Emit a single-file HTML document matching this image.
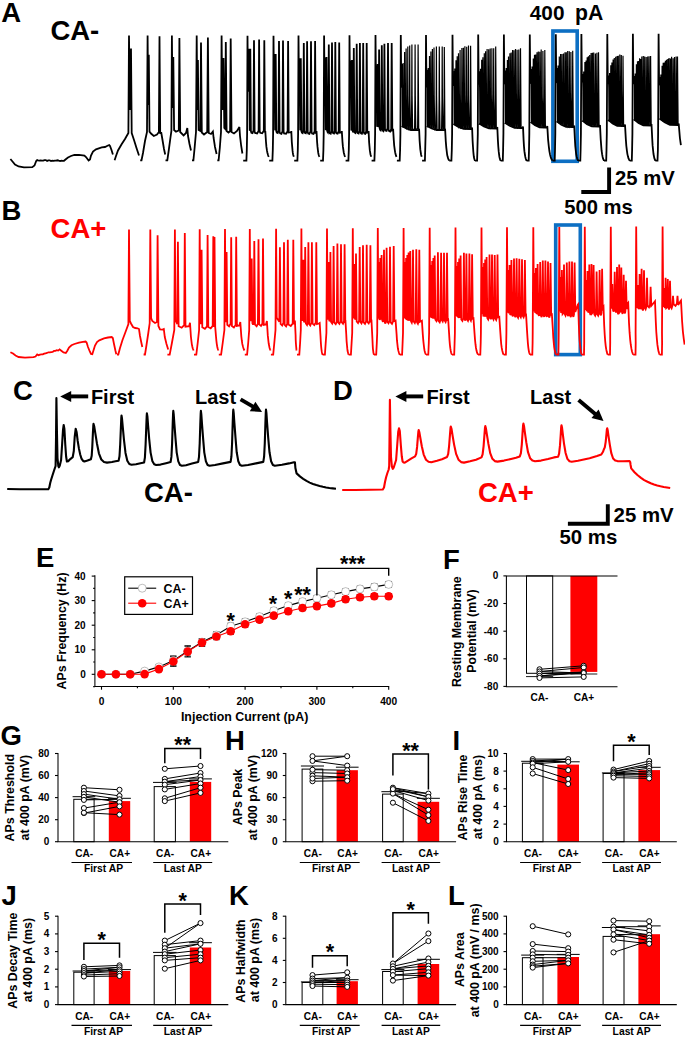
<!DOCTYPE html>
<html><head><meta charset="utf-8"><title>Figure</title>
<style>
html,body{margin:0;padding:0;background:#fff;}
svg{display:block;font-family:"Liberation Sans",sans-serif;font-weight:bold;}
</style></head>
<body>
<svg width="685" height="1038" viewBox="0 0 685 1038">
<rect x="0" y="0" width="685" height="1038" fill="#fff"/>
<rect x="552.9" y="31.0" width="24.3" height="130.3" fill="none" stroke="#0d6fc3" stroke-width="3.6"/>
<rect x="555.7" y="225.0" width="24.6" height="129.6" fill="none" stroke="#0d6fc3" stroke-width="3.6"/>
<path d="M10.4 159.0 L12.5 161.5 L15.0 164.5 L18.6 166.5 L24.0 167.3 L32.3 167.2 L34.5 165.5 L36.2 161.0 L37.2 160.0 L38.0 160.3 L39.3 160.6 L40.6 160.5 L41.9 160.7 L43.2 160.7 L44.5 160.2 L45.8 160.1 L47.1 160.9 L48.4 160.4 L49.7 160.3 L51.0 161.1 L52.3 160.6 L53.6 160.9 L54.9 160.6 L56.2 160.7 L57.5 160.3 L58.8 160.7 L60.1 161.0 L61.4 160.6 L62.7 160.8 L64.0 160.8 L65.5 159.5 L68.0 157.5 L71.0 156.0 L74.4 155.0 L79.0 154.8 L84.4 155.6 L86.0 157.0 L88.6 160.5 L90.0 159.5 L91.0 155.5 L93.0 151.6 L96.0 149.3 L101.7 147.4 L105.0 147.0 L107.5 145.8 L109.2 145.0 L110.0 146.0 L111.5 150.0 L112.9 154.5 M114.6 160.3 L116.0 156.0 L118.0 150.5 L121.6 144.2 L125.0 139.0 L128.4 133.0 L129.0 35.4 L129.8 110.0 L130.4 100.0 L131.0 48.6 L131.7 133.0 L134.0 140.0 L136.5 148.0 L139.0 155.5 M140.2 160.3 L141.5 160.3 L143.0 153.0 L145.0 141.0 L147.0 132.0 L147.6 35.4 L148.2 105.0 L148.8 54.8 L149.5 131.7 L151.0 133.5 L153.8 136.0 L157.0 134.5 L158.9 132.0 L159.5 36.2 L160.2 133.0 L161.3 133.0 L162.5 140.0 L164.0 149.0 L165.2 154.5 M165.5 160.3 L167.3 160.3 L168.8 150.0 L170.4 138.0 L171.4 131.0 L171.9 35.4 L172.6 108.0 L173.3 57.0 L174.1 130.0 L176.0 131.7 L178.8 130.5 L179.4 38.0 L180.2 132.0 L183.6 135.4 L186.0 133.0 L187.3 128.0 L188.0 136.0 L189.5 144.0 L191.0 150.5 M192.0 160.3 L193.4 160.3 L194.6 148.0 L196.0 132.0 L196.7 35.4 L197.3 110.0 L197.9 60.0 L198.6 130.0 L200.4 131.0 L201.0 42.4 L201.8 132.5 L204.0 134.5 L207.2 132.0 L207.9 37.4 L208.7 133.0 L211.0 134.0 L212.9 131.5 L213.6 138.0 L215.0 147.0 L216.6 154.0 M217.3 160.3 L218.6 160.3 L219.8 148.0 L221.0 132.0 L221.6 35.4 L222.3 110.0 L222.9 62.0 L223.5 58.0 L224.3 128.0 L225.2 129.0 L225.8 42.0 L226.6 131.0 L228.5 132.5 L230.1 131.0 L230.7 38.6 L231.5 132.0 L234.0 133.5 L237.0 131.0 L239.4 127.0 L240.0 136.0 L241.2 146.0 L242.4 153.5 M243.2 160.6 L246.4 160.6 L246.8 150.0 L247.1 134.0 L247.5 35.8 L248.0 90.9 L248.8 90.9 L249.3 48.8 L249.7 130.7 L249.9 130.2 L250.3 48.8 L250.9 131.1 L251.4 132.7 L252.5 133.1 L253.5 130.6 L254.0 40.2 L254.6 131.4 L255.1 133.0 L257.1 133.4 L258.6 130.9 L259.1 39.4 L259.7 131.2 L260.2 132.8 L262.2 133.2 L263.8 130.7 L264.3 40.2 L264.9 132.6 L265.1 132.3 L265.3 131.1 L266.0 142.0 L266.4 146.7 L266.9 150.2 L267.4 152.7 L267.9 154.5 L268.3 155.8 L268.8 156.8 M269.2 160.6 L272.4 160.6 L272.8 150.0 L273.1 134.0 L273.5 35.7 L274.0 91.5 L274.3 91.5 L274.7 53.9 L275.1 130.3 L275.3 129.8 L275.7 53.9 L276.3 131.1 L276.8 132.7 L277.7 133.1 L278.5 130.6 L279.0 40.9 L279.6 131.8 L280.1 133.4 L281.4 133.8 L282.5 131.3 L283.0 40.6 L283.6 131.8 L284.1 133.4 L286.1 133.8 L287.6 131.3 L288.1 40.9 L288.7 132.6 L291.1 132.3 L291.3 131.1 L291.8 142.0 L292.2 146.7 L292.5 150.2 L292.8 152.7 L293.1 154.5 L293.5 155.8 L293.8 156.8 M294.2 160.6 L297.4 160.6 L297.8 150.0 L298.1 134.0 L298.5 35.5 L299.0 91.5 L299.3 91.5 L299.7 58.2 L300.2 130.3 L300.4 129.8 L300.8 58.2 L301.4 131.1 L301.9 132.7 L302.6 133.1 L303.3 130.6 L303.8 43.0 L304.4 131.3 L304.9 132.9 L305.8 133.3 L306.6 130.8 L307.1 41.2 L307.7 131.9 L308.2 133.5 L309.4 133.9 L310.5 131.4 L311.0 41.2 L311.6 131.9 L312.1 133.5 L313.5 133.9 L314.6 131.4 L315.1 40.9 L315.7 132.6 L316.3 132.3 L316.5 131.1 L317.1 142.0 L317.5 146.7 L317.9 150.2 L318.2 152.7 L318.6 154.5 L319.0 155.8 L319.4 156.8 M320.2 160.6 L323.0 160.6 L323.4 150.0 L323.7 134.0 L324.1 35.4 L324.6 90.9 L324.9 90.9 L325.3 57.5 L325.8 130.1 L326.1 129.6 L326.5 57.0 L327.1 130.5 L327.6 132.1 L327.9 132.5 L328.3 130.0 L328.8 44.5 L329.4 131.7 L329.9 133.3 L330.7 133.7 L331.5 131.2 L332.0 42.6 L332.6 131.5 L333.1 133.1 L334.0 133.5 L334.8 131.0 L335.3 42.0 L335.9 131.7 L336.4 133.3 L337.6 133.7 L338.7 131.2 L339.2 42.6 L339.8 132.6 L341.6 132.3 L341.8 131.1 L342.5 142.0 L342.9 146.7 L343.4 150.2 L343.8 152.7 L344.3 154.5 L344.7 155.8 L345.2 156.8 M345.6 160.6 L348.4 160.6 L348.8 150.0 L349.1 134.0 L349.5 35.3 L350.0 91.0 L350.3 91.0 L350.8 60.4 L351.3 130.4 L351.6 129.9 L352.0 60.0 L352.6 130.6 L353.1 132.2 L353.1 132.6 L353.3 130.1 L353.8 48.0 L354.4 131.0 L354.9 132.6 L355.5 133.0 L356.2 130.5 L356.7 43.8 L357.3 131.6 L357.8 133.2 L358.6 133.6 L359.4 131.1 L359.9 43.0 L360.5 131.7 L361.0 133.3 L361.9 133.7 L362.7 131.2 L363.2 43.0 L363.8 131.9 L364.3 133.5 L365.3 133.9 L366.2 131.4 L366.7 43.0 L367.3 132.6 L368.4 132.3 L368.6 131.1 L369.1 142.0 L369.5 146.7 L369.8 150.2 L370.2 152.7 L370.5 154.5 L370.9 155.8 L371.2 156.8 M371.6 160.6 L374.4 160.6 L374.8 150.0 L375.1 134.0 L375.5 35.1 L376.0 87.1 L376.3 87.1 L376.7 65.4 L377.1 126.7 L377.3 126.2 L377.7 64.0 L378.3 127.1 L378.6 126.6 L379.1 49.5 L379.7 128.3 L380.2 129.9 L380.7 130.3 L381.3 127.8 L381.8 45.2 L382.4 129.0 L382.9 130.6 L383.4 131.0 L383.9 128.5 L384.4 43.8 L385.0 128.9 L385.5 130.5 L386.6 130.9 L387.5 128.4 L388.0 43.0 L388.6 129.5 L389.1 131.1 L390.2 131.5 L391.2 129.0 L391.7 43.0 L392.3 130.2 L392.9 129.9 L393.1 128.7 L393.8 140.4 L394.2 145.6 L394.7 149.4 L395.1 152.2 L395.6 154.2 L396.0 155.7 L396.5 156.8 M396.9 160.6 L399.7 160.6 L400.1 150.0 L400.4 134.0 L400.8 35.0 L401.3 87.3 M401.8 126.0 L406.3 128.5 L411.0 130.0 L418.7 130.2 L418.9 129.9 L419.1 128.7 L419.6 140.4 L420.0 145.6 L420.3 149.4 L420.7 152.2 L421.0 154.2 L421.4 155.7 L421.7 156.8 M422.1 160.6 L424.9 160.6 L425.2 150.0 L425.6 134.0 L426.0 34.9 L426.5 87.2 M427.0 126.0 L431.7 128.5 L436.7 130.0 L444.9 130.2 L444.9 129.9 L445.1 128.7 L445.8 141.6 L446.3 147.6 L446.8 151.9 L447.2 155.0 L447.7 157.1 L448.2 158.7 L448.7 159.8 L449.2 160.6 M449.2 160.6 L451.4 160.6 L451.8 150.0 L452.1 134.0 L452.5 34.8 L453.0 85.4 M453.5 124.1 L458.4 127.0 L463.5 128.8 L471.2 129.0 L471.9 128.7 L472.1 127.5 L472.6 140.8 L473.0 147.0 L473.3 151.5 L473.6 154.7 L473.9 157.0 L474.2 158.6 L474.6 159.8 L474.9 160.6 M474.9 160.6 L477.1 160.6 L477.4 150.0 L477.8 134.0 L478.2 34.6 L478.7 84.6 M479.2 123.4 L483.9 126.4 L488.9 128.3 L496.3 128.5 L497.1 128.2 L497.3 127.0 L497.9 140.4 L498.3 146.8 L498.7 151.4 L499.1 154.6 L499.4 156.9 L499.8 158.6 L500.2 159.8 L500.6 160.6 M500.6 160.6 L502.8 160.6 L503.1 150.0 L503.4 134.0 L503.9 34.5 L504.4 84.1 M504.9 122.7 L509.6 125.8 L514.6 127.8 L521.1 128.0 L522.8 127.7 L523.0 126.5 L523.6 140.1 L524.0 146.6 L524.4 151.2 L524.9 154.5 L525.3 156.9 L525.7 158.5 L526.1 159.7 L526.5 160.6 M526.5 160.6 L528.7 160.6 L529.0 150.0 L529.3 134.0 L529.8 34.4 L530.3 83.5 M530.8 122.0 L535.0 125.2 L539.6 127.3 L545.4 127.5 L547.1 127.2 L547.3 126.0 L548.1 139.7 L548.8 146.3 L549.4 151.0 L550.0 154.4 L550.6 156.8 L551.2 158.5 L551.9 159.7 L552.5 160.6 M552.5 160.6 L554.7 160.6 L555.0 150.0 L555.3 134.0 L555.8 34.2 L556.3 82.7 M556.8 121.3 L561.3 124.7 L566.1 126.8 L573.3 127.0 L574.0 126.7 L574.2 125.5 L574.9 139.4 L575.3 146.1 L575.8 150.9 L576.2 154.3 L576.7 156.7 L577.2 158.5 L577.6 159.7 L578.1 160.6 M578.1 160.6 L580.3 160.6 L580.6 150.0 L580.9 134.0 L581.4 34.1 L581.9 82.0 M582.4 120.6 L587.0 124.1 L591.8 126.3 L599.1 126.5 L599.8 126.2 L600.0 125.0 L600.7 139.1 L601.2 145.9 L601.6 150.7 L602.1 154.2 L602.6 156.7 L603.0 158.4 L603.5 159.7 L604.0 160.6 M604.0 160.6 L606.2 160.6 L606.5 150.0 L606.8 134.0 L607.3 34.0 L607.8 83.6 M608.3 119.9 L612.6 123.5 L617.2 125.8 L623.6 126.0 L624.8 125.7 L625.0 124.5 L625.8 138.7 L626.3 145.6 L626.9 150.6 L627.4 154.1 L628.0 156.6 L628.5 158.4 L629.1 159.7 L629.6 160.6 M629.6 160.6 L631.8 160.6 L632.1 150.0 L632.4 134.0 L632.9 33.8 L633.4 84.0 M633.9 119.2 L638.5 122.9 L643.3 125.3 L651.2 125.5 L651.3 125.2 L651.5 124.0 L652.2 138.4 L652.6 145.4 L653.1 150.4 L653.5 154.0 L654.0 156.5 L654.4 158.4 L654.9 159.7 L655.3 160.6 M655.3 160.6 L657.5 160.6 L657.9 150.0 L658.1 134.0 L658.6 33.7 L659.1 85.0 M659.6 118.5 L664.6 122.3 L669.9 124.8 L678.1 125.0 L678.5 124.7 L678.7 123.5 L679.9 138.0 L680.9 145.2" fill="none" stroke="#000" stroke-width="1.8" stroke-linejoin="miter" stroke-miterlimit="3"/>
<path d="M401.3 87.3 L401.6 87.3 L402.0 64.0 L402.2 93.7 L402.5 127.2 L402.7 126.7 L402.9 97.7 L403.1 63.0 L403.3 93.9 L403.8 127.4 L404.1 126.9 L404.4 97.9 L404.6 52.0 L404.8 94.6 L405.3 128.1 L405.6 127.6 L405.9 98.6 L406.1 48.5 L406.3 94.8 L406.8 128.3 L407.2 127.8 L407.6 98.8 L407.8 46.5 L408.0 96.0 L408.5 129.5 L409.1 129.0 L409.5 100.0 L409.7 45.4 L409.9 96.3 L410.4 129.8 L411.3 129.3 L411.7 100.3 L411.9 44.5 L412.1 96.0 L412.6 129.5 L414.6 129.0 L414.9 100.0 L415.1 44.5 L415.3 95.9 L415.8 129.4 L417.6 128.9 L417.9 99.9 L418.1 44.5 L418.7 130.2 M426.5 87.2 L426.7 87.2 L427.1 69.8 L427.3 93.7 L427.6 127.2 L427.8 126.7 L428.0 97.7 L428.2 68.0 L428.4 93.4 L428.8 126.9 L429.0 126.4 L429.3 97.4 L429.5 56.0 L429.7 94.4 L430.1 127.9 L430.3 127.4 L430.7 98.4 L430.9 51.5 L431.1 94.7 L431.6 128.2 L431.8 127.7 L432.2 98.7 L432.4 49.0 L432.6 95.0 L433.1 128.5 L433.4 128.0 L433.8 99.0 L434.0 47.4 L434.2 96.0 L434.7 129.5 L435.8 129.0 L436.2 100.0 L436.4 46.4 L436.6 96.4 L437.1 129.9 L438.8 129.4 L439.1 100.4 L439.3 46.4 L439.5 96.5 L440.0 130.0 L441.6 129.5 L442.0 100.5 L442.2 46.4 L442.4 95.8 L442.9 129.3 L443.8 128.8 L444.1 99.8 L444.3 47.0 L444.9 130.2 M453.0 85.4 L453.3 85.4 L453.8 71.0 L454.0 91.4 L454.2 124.9 L454.4 124.4 L454.6 95.4 L454.8 68.5 L455.0 92.0 L455.3 125.5 L455.5 125.0 L455.8 96.0 L456.0 60.2 L456.2 92.5 L456.5 126.0 L456.7 125.5 L457.0 96.5 L457.2 56.3 L457.4 93.1 L457.8 126.6 L458.0 126.1 L458.3 97.1 L458.5 53.3 L458.7 93.8 L459.2 127.3 L459.6 126.8 L459.9 97.8 L460.1 50.0 L460.3 94.4 L460.8 127.9 L461.3 127.4 L461.7 98.4 L461.9 48.0 L462.1 95.1 L462.5 128.6 L462.8 128.1 L463.2 99.1 L463.4 47.7 L463.6 95.4 L464.1 128.9 L464.4 128.4 L464.7 99.4 L464.9 46.3 L465.1 95.0 L465.6 128.5 L466.1 128.0 L466.5 99.0 L466.7 46.8 L466.9 94.9 L467.4 128.4 L467.9 127.9 L468.3 98.9 L468.5 45.4 L468.7 95.2 L469.2 128.7 L470.1 128.2 L470.5 99.2 L470.6 45.8 L471.2 129.0 M478.7 84.6 L479.0 84.6 L479.4 71.2 L479.7 91.3 L479.9 124.8 L480.1 124.3 L480.3 95.3 L480.5 68.7 L480.7 91.2 L481.0 124.7 L481.2 124.2 L481.5 95.2 L481.7 59.7 L481.9 91.9 L482.3 125.4 L482.4 124.9 L482.7 95.9 L482.9 57.2 L483.1 92.6 L483.5 126.1 L483.7 125.6 L484.1 96.6 L484.3 53.3 L484.5 92.9 L484.9 126.4 L485.0 125.9 L485.4 96.9 L485.6 51.2 L485.8 93.6 L486.2 127.1 L486.5 126.6 L486.9 97.6 L487.1 49.0 L487.3 94.3 L487.8 127.8 L488.1 127.3 L488.5 98.3 L488.7 49.2 L488.9 94.4 L489.4 127.9 L489.6 127.4 L490.0 98.4 L490.2 48.6 L490.4 94.6 L490.9 128.1 L491.4 127.6 L491.7 98.6 L491.9 48.3 L492.1 94.3 L492.6 127.8 L493.1 127.3 L493.5 98.3 L493.7 48.2 L493.9 94.4 L494.4 127.9 L495.1 127.4 L495.5 98.4 L495.7 46.6 L496.3 128.5 M504.4 84.1 L504.7 84.1 L505.1 70.5 L505.4 90.2 L505.6 123.7 L505.8 123.2 L506.0 94.2 L506.2 68.0 L506.4 90.6 L506.7 124.1 L506.9 123.6 L507.2 94.6 L507.4 60.0 L507.6 91.0 L507.9 124.5 L508.1 124.0 L508.3 95.0 L508.5 56.5 L508.7 91.9 L509.1 125.4 L509.4 124.9 L509.7 95.9 L509.9 53.2 L510.1 92.3 L510.5 125.8 L510.7 125.3 L511.0 96.3 L511.2 52.5 L511.4 93.4 L511.8 126.9 L512.0 126.4 L512.4 97.4 L512.6 50.1 L512.8 94.1 L513.2 127.6 L513.5 127.1 L513.9 98.1 L514.0 50.3 L514.3 93.7 L514.7 127.2 L514.9 126.7 L515.3 97.7 L515.5 49.0 L515.7 93.8 L516.2 127.3 L516.5 126.8 L516.9 97.8 L517.1 49.7 L517.3 94.2 L517.8 127.7 L518.3 127.2 L518.6 98.2 L518.8 49.5 L519.0 94.1 L519.5 127.6 L520.0 127.1 L520.3 98.1 L520.5 48.3 L521.1 128.0 M530.3 83.5 L530.6 83.5 L531.0 69.0 L531.3 89.5 L531.5 123.0 L531.7 122.5 L531.9 93.5 L532.1 66.5 L532.3 90.5 L532.6 124.0 L532.8 123.5 L533.1 94.5 L533.3 58.6 L533.5 91.2 L533.8 124.7 L534.0 124.2 L534.3 95.2 L534.5 54.8 L534.7 91.7 L535.0 125.2 L535.2 124.7 L535.5 95.7 L535.7 54.4 L535.9 92.2 L536.3 125.7 L536.5 125.2 L536.8 96.2 L537.0 52.2 L537.2 92.7 L537.6 126.2 L537.8 125.7 L538.2 96.7 L538.3 51.4 L538.6 93.4 L539.0 126.9 L539.2 126.4 L539.6 97.4 L539.8 51.8 L540.0 93.3 L540.4 126.8 L540.6 126.3 L541.0 97.3 L541.2 49.6 L541.4 93.2 L541.9 126.7 L542.4 126.2 L542.8 97.2 L542.9 51.0 L543.2 93.6 L543.6 127.1 L544.2 126.6 L544.6 97.6 L544.8 49.9 L545.4 127.5 M556.3 82.7 L556.6 82.7 L557.0 68.0 L557.3 89.0 L557.5 122.5 L557.7 122.0 L557.9 93.0 L558.1 65.5 L558.3 89.8 L558.6 123.3 L558.8 122.8 L559.1 93.8 L559.3 56.6 L559.5 90.1 L559.9 123.6 L560.1 123.1 L560.4 94.1 L560.6 54.1 L560.8 90.7 L561.2 124.2 L561.5 123.7 L561.8 94.7 L562.0 54.0 L562.2 91.7 L562.7 125.2 L562.9 124.7 L563.3 95.7 L563.5 53.5 L563.7 92.7 L564.2 126.2 L564.5 125.7 L564.8 96.7 L565.0 52.2 L565.2 92.7 L565.6 126.2 L565.8 125.7 L566.1 96.7 L566.3 52.2 L566.5 93.2 L566.9 126.7 L567.1 126.2 L567.5 97.2 L567.7 51.1 L567.9 93.3 L568.4 126.8 L568.8 126.3 L569.1 97.3 L569.3 51.3 L569.5 93.2 L570.0 126.7 L570.4 126.2 L570.7 97.2 L570.9 52.1 L571.1 93.3 L571.6 126.8 L572.1 126.3 L572.5 97.3 L572.7 50.8 L573.3 127.0 M581.9 82.0 L582.2 82.0 L582.6 74.0 L582.9 88.4 L583.1 121.9 L583.3 121.4 L583.5 92.4 L583.7 71.5 L583.9 88.8 L584.2 122.3 L584.4 121.8 L584.7 92.8 L584.9 62.0 L585.1 89.3 L585.4 122.8 L585.6 122.3 L585.9 93.3 L586.1 60.5 L586.3 90.0 L586.6 123.5 L586.8 123.0 L587.0 94.0 L587.2 57.3 L587.4 90.4 L587.7 123.9 L587.9 123.4 L588.2 94.4 L588.4 56.2 L588.6 91.5 L589.0 125.0 L589.1 124.5 L589.5 95.5 L589.7 54.9 L589.9 92.4 L590.3 125.9 L590.6 125.4 L590.9 96.4 L591.1 53.1 L591.3 92.4 L591.7 125.9 L591.9 125.4 L592.2 96.4 L592.4 52.8 L592.6 92.2 L593.0 125.7 L593.2 125.2 L593.6 96.2 L593.7 52.4 L594.0 92.2 L594.4 125.7 L594.9 125.2 L595.2 96.2 L595.4 53.6 L595.6 92.4 L596.1 125.9 L596.3 125.4 L596.7 96.4 L596.9 52.8 L597.1 92.6 L597.6 126.1 L597.9 125.6 L598.3 96.6 L598.5 52.3 L599.1 126.5 M607.8 83.6 L608.1 83.6 L608.5 75.6 L608.8 87.9 L609.0 121.4 L609.2 120.9 L609.4 91.9 L609.6 73.1 L609.8 88.2 L610.1 121.7 L610.3 121.2 L610.6 92.2 L610.8 65.2 L611.0 89.0 L611.3 122.5 L611.5 122.0 L611.7 93.0 L611.9 62.4 L612.1 89.4 L612.5 122.9 L612.6 122.4 L613.0 93.4 L613.1 59.4 L613.4 90.6 L613.7 124.1 L613.8 123.6 L614.1 94.6 L614.3 58.1 L614.5 91.3 L614.9 124.8 L615.1 124.3 L615.5 95.3 L615.7 56.8 L615.9 92.3 L616.3 125.8 L616.5 125.3 L616.9 96.3 L617.1 56.1 L617.3 92.2 L617.6 125.7 L617.8 125.2 L618.2 96.2 L618.3 55.8 L618.6 92.1 L619.0 125.6 L619.3 125.1 L619.7 96.1 L619.8 54.5 L620.1 92.2 L620.5 125.7 L620.7 125.2 L621.1 96.2 L621.3 55.0 L621.5 92.1 L622.0 125.6 L622.4 125.1 L622.8 96.1 L623.0 55.8 L623.6 126.0 M633.4 84.0 L633.7 84.0 L634.1 76.0 L634.4 87.3 L634.6 120.8 L634.8 120.3 L635.0 91.3 L635.2 73.5 L635.4 87.3 L635.7 120.8 L635.9 120.3 L636.2 91.3 L636.4 64.2 L636.6 88.2 L636.9 121.7 L637.1 121.2 L637.4 92.2 L637.5 61.2 L637.8 88.9 L638.0 122.4 L638.2 121.9 L638.4 92.9 L638.6 61.0 L638.8 89.7 L639.0 123.2 L639.2 122.7 L639.4 93.7 L639.6 58.3 L639.8 89.9 L640.1 123.4 L640.3 122.9 L640.5 93.9 L640.7 58.9 L640.9 90.5 L641.2 124.0 L641.4 123.5 L641.7 94.5 L641.8 56.4 L642.1 91.3 L642.5 124.8 L642.7 124.3 L643.1 95.3 L643.3 55.9 L643.5 91.6 L643.9 125.1 L644.2 124.6 L644.5 95.6 L644.7 56.6 L644.9 91.7 L645.4 125.2 L645.7 124.7 L646.1 95.7 L646.2 56.9 L646.5 91.4 L646.9 124.9 L647.2 124.4 L647.5 95.4 L647.7 56.4 L647.9 91.4 L648.3 124.9 L648.5 124.4 L648.9 95.4 L649.1 56.2 L649.3 91.4 L649.8 124.9 L650.1 124.4 L650.4 95.4 L650.6 56.1 L651.2 125.5 M659.1 85.0 L659.4 85.0 L659.9 77.0 L660.1 86.0 L660.3 119.5 L660.5 119.0 L660.7 90.0 L660.9 74.5 L661.1 87.0 L661.4 120.5 L661.6 120.0 L661.9 91.0 L662.1 65.7 L662.3 87.8 L662.6 121.3 L662.7 120.8 L663.0 91.8 L663.2 62.7 L663.4 87.9 L663.7 121.4 L663.8 120.9 L664.1 91.9 L664.3 62.6 L664.5 88.8 L664.8 122.3 L664.9 121.8 L665.2 92.8 L665.4 60.8 L665.6 89.2 L665.9 122.7 L666.0 122.2 L666.3 93.2 L666.5 59.8 L666.7 90.2 L667.1 123.7 L667.3 123.2 L667.6 94.2 L667.8 59.0 L668.0 90.7 L668.3 124.2 L668.5 123.7 L668.9 94.7 L669.0 58.1 L669.3 90.8 L669.6 124.3 L669.9 123.8 L670.2 94.8 L670.4 58.5 L670.6 90.8 L670.9 124.3 L671.1 123.8 L671.4 94.8 L671.6 56.7 L671.8 90.6 L672.3 124.1 L672.5 123.6 L672.9 94.6 L673.1 58.2 L673.3 91.0 L673.7 124.5 L674.0 124.0 L674.3 95.0 L674.5 57.1 L674.7 90.9 L675.2 124.4 L675.5 123.9 L675.9 94.9 L676.1 56.5 L676.3 90.7 L676.7 124.2 L676.9 123.7 L677.3 94.7 L677.5 56.5 L678.1 125.0" fill="none" stroke="#000" stroke-width="1.2" stroke-linejoin="miter" stroke-miterlimit="3"/>
<path d="M10.4 352.2 L13.0 353.5 L15.5 355.5 L18.6 357.0 L25.0 357.6 L33.5 357.2 L35.5 356.5 L37.2 354.5 L38.5 355.2 L40.0 354.6 L41.4 354.3 L42.8 354.4 L44.2 353.6 L45.6 353.3 L47.0 353.0 L48.4 352.3 L49.8 352.3 L51.2 352.1 L52.6 351.9 L54.0 350.9 L55.4 350.8 L56.8 350.2 L58.2 350.6 L59.6 349.4 L61.0 350.5 L63.5 352.5 L65.8 353.0 L67.2 351.0 L69.0 347.5 L71.5 345.3 L74.4 344.0 L79.0 342.6 L83.0 341.8 L85.6 341.5 L86.6 342.5 L88.0 347.0 L89.8 351.5 L91.0 354.0 L92.3 354.3 L93.3 351.0 L95.0 345.5 L97.0 342.0 L99.3 340.3 L104.0 338.4 L108.0 337.5 L111.7 337.0 L112.8 338.0 L114.0 344.0 L115.4 350.5 L116.3 354.2 M117.0 354.5 L118.3 354.5 L120.0 348.0 L122.5 340.0 L125.5 332.0 L128.4 324.0 L129.0 229.4 L129.8 321.0 L131.0 323.5 L133.0 327.0 L135.2 328.0 L137.5 328.3 L139.0 329.0 L140.0 336.0 L141.2 342.0 L142.3 347.0 M143.6 354.5 L145.0 354.5 L146.5 345.0 L148.3 333.0 L149.7 323.0 L150.3 229.4 L151.1 318.0 L152.3 321.0 L155.0 323.0 L157.0 322.0 L157.6 235.3 L158.4 326.0 L160.0 329.3 L162.5 329.6 L163.8 329.0 L164.8 337.0 L166.5 344.0 L168.2 349.5 M167.4 354.7 L169.7 354.7 L171.9 343.0 L174.3 330.0 L174.9 229.4 L175.5 320.1 L177.3 324.1 L177.9 241.8 L178.6 326.2 L181.7 327.7 L184.2 325.2 L184.8 232.9 L185.5 326.7 L189.1 326.2 L190.0 322.7 L190.9 336.5 L191.4 340.9 L191.8 344.1 L192.3 346.5 L192.7 348.2 L193.2 349.5 L193.6 350.5 M194.0 354.7 L196.3 354.7 L197.7 343.0 L199.1 330.0 L199.7 229.2 L200.3 320.0 L201.0 324.0 L201.6 249.7 L202.3 327.3 L204.9 328.8 L207.0 326.3 L207.6 234.9 L208.3 326.9 L210.7 328.4 L212.7 325.9 L213.3 236.2 L213.7 326.8 L214.1 325.8 L214.5 237.0 L215.2 326.7 L214.2 326.2 L215.1 325.7 L216.0 336.5 L216.4 340.9 L216.8 344.1 L217.2 346.5 L217.6 348.2 L218.0 349.5 L218.4 350.5 M218.8 354.7 L221.1 354.7 L222.7 343.0 L224.4 330.0 L225.0 229.1 L225.6 318.2 L226.1 322.2 L226.6 252.0 L227.3 324.8 L229.1 326.3 L230.6 323.8 L231.2 237.3 L231.9 326.0 L233.9 327.5 L235.6 325.0 L236.2 236.8 L236.9 326.0 L239.4 325.5 L240.3 322.0 L241.3 336.1 L241.8 340.5 L242.3 343.9 L242.9 346.3 L243.4 348.1 L243.9 349.5 L244.4 350.5 M244.8 354.7 L247.1 354.7 L248.2 343.0 L249.2 330.0 L249.8 228.9 L250.4 317.1 L251.1 321.1 L251.7 258.4 L252.4 323.2 L253.1 324.7 L253.7 322.2 L254.3 241.0 L255.0 324.7 L256.6 326.2 L257.9 323.7 L258.5 239.3 L259.2 324.4 L261.0 325.9 L262.4 323.4 L263.0 238.6 L263.7 325.0 L266.0 324.5 L266.9 321.0 L267.8 335.4 L268.3 340.1 L268.7 343.5 L269.2 346.1 L269.6 348.0 L270.1 349.5 L270.5 350.5 M270.9 354.7 L273.2 354.7 L274.3 343.0 L275.5 330.0 L276.1 228.8 L276.7 317.7 L279.3 321.7 L279.9 247.3 L280.6 323.9 L282.2 325.4 L283.4 322.9 L284.0 242.3 L284.7 324.9 L286.1 326.4 L287.2 323.9 L287.8 239.8 L288.5 324.5 L290.8 326.0 L292.7 323.5 L293.3 239.8 L294.0 324.5 L294.0 324.0 L294.9 320.5 L295.6 335.0 L295.7 339.8 L295.9 343.4 L296.1 346.0 L296.3 348.0 L296.4 349.4 L296.6 350.5 M297.0 354.7 L299.3 354.7 L300.1 343.0 L300.8 330.0 L301.4 228.6 L302.0 316.8 L302.7 320.8 L303.3 259.7 L304.0 322.2 L304.6 321.2 L305.2 247.0 L305.9 323.5 L307.0 325.0 L307.8 322.5 L308.4 242.3 L309.1 323.9 L310.3 325.4 L311.3 322.9 L311.9 242.3 L312.6 323.7 L314.3 325.2 L315.7 322.7 L316.3 242.3 L317.0 324.0 L318.8 323.5 L319.7 323.0 L320.5 336.0 L320.8 341.8 L321.1 346.0 L321.4 349.0 L321.7 351.2 L322.0 352.7 L322.3 353.9 L322.6 354.7 M322.6 354.7 L324.9 354.7 L325.7 343.0 L326.4 333.0 L327.0 228.4 L327.6 315.6 L328.2 319.6 L328.7 262.0 L329.3 321.2 L329.9 320.2 L330.4 252.0 L331.1 322.0 L332.2 323.5 L333.0 321.0 L333.6 246.0 L334.3 322.7 L335.7 324.2 L336.8 321.7 L337.4 243.5 L338.1 322.3 L339.4 323.8 L340.4 321.3 L341.0 244.3 L341.7 322.2 L343.0 323.7 L344.0 321.2 L344.6 244.3 L345.3 322.5 L344.6 322.0 L345.5 321.5 L346.3 335.0 L346.6 341.1 L347.0 345.5 L347.3 348.7 L347.6 351.0 L348.0 352.6 L348.3 353.8 L348.6 354.7 M348.6 354.7 L350.9 354.7 L351.6 343.0 L352.2 333.0 L352.8 228.3 L353.4 314.3 L353.9 318.3 L354.4 264.0 L355.0 319.5 L355.5 318.5 L356.0 253.5 L356.7 321.5 L358.0 323.0 L359.1 320.5 L359.7 247.0 L360.4 321.9 L361.5 323.4 L362.4 320.9 L363.0 245.3 L363.7 322.4 L365.0 323.9 L366.1 321.4 L366.7 244.8 L367.4 321.9 L368.7 323.4 L369.8 320.9 L370.4 245.3 L371.1 322.0 L370.6 321.5 L371.5 321.0 L372.2 334.6 L372.5 340.8 L372.7 345.3 L372.9 348.6 L373.2 350.9 L373.4 352.6 L373.7 353.8 L373.9 354.7 M373.9 354.7 L376.2 354.7 L376.8 343.0 L377.2 333.0 L377.8 228.1 L378.4 314.7 L378.8 318.7 L379.2 262.0 L379.6 319.9 L380.0 318.9 L380.3 258.0 L380.8 319.4 L381.2 318.4 L381.6 255.0 L382.3 320.4 L382.9 321.9 L383.4 319.4 L384.0 249.7 L384.7 322.1 L385.4 323.6 L386.0 321.1 L386.6 247.8 L387.3 321.7 L388.5 323.2 L389.4 320.7 L390.0 246.8 L390.7 322.3 L392.0 323.8 L393.1 321.3 L393.7 246.0 L394.4 321.7 L394.7 321.2 L395.6 320.7 L396.6 334.4 L397.0 340.7 L397.5 345.2 L397.9 348.5 L398.4 350.9 L398.9 352.6 L399.3 353.8 L399.8 354.7 M399.8 354.7 L402.1 354.7 L402.6 343.0 L403.0 333.0 L403.6 228.0 L404.2 314.0 L404.6 318.0 L405.0 262.0 L405.4 319.0 L405.8 318.0 L406.1 258.0 L406.5 320.0 L406.9 319.0 L407.3 255.0 L407.8 320.6 L408.2 319.6 L408.6 252.5 L409.2 320.6 L409.8 319.6 L410.3 251.0 L411.0 321.2 L411.8 322.7 L412.4 320.2 L413.0 249.7 L413.7 321.5 L414.8 323.0 L415.7 320.5 L416.3 249.3 L417.0 322.3 L417.9 323.8 L418.7 321.3 L419.3 249.7 L420.0 321.7 L421.0 321.2 L421.9 320.7 L422.8 334.4 L423.3 340.7 L423.8 345.2 L424.2 348.5 L424.6 350.9 L425.1 352.6 L425.6 353.8 L426.0 354.7 M426.0 354.7 L428.3 354.7 L428.8 343.0 L429.1 333.0 L429.7 227.8 L430.3 313.3 L430.7 317.3 L431.1 265.0 L431.5 317.8 L431.9 316.8 L432.2 261.0 L432.6 318.4 L433.0 317.4 L433.4 258.0 L433.9 318.6 L434.3 317.6 L434.7 255.5 L435.4 319.6 L436.5 321.1 L437.3 318.6 L437.9 252.2 L438.6 320.9 L439.7 322.4 L440.5 319.9 L441.1 252.7 L441.8 320.1 L442.7 321.6 L443.4 319.1 L444.0 252.7 L444.7 320.6 L445.6 322.1 L446.4 319.6 L447.0 252.7 L447.7 320.5 L447.3 320.0 L448.2 319.5 L449.1 333.6 L449.5 340.1 L449.9 344.8 L450.3 348.2 L450.7 350.7 L451.1 352.5 L451.5 353.8 L451.9 354.7 M451.9 354.7 L454.2 354.7 L454.6 343.0 L454.9 333.0 L455.5 227.6 L456.1 311.9 L456.5 315.9 L456.9 266.0 L457.3 316.9 L457.7 315.9 L458.0 262.0 L458.4 318.0 L458.8 317.0 L459.2 258.5 L459.7 317.7 L460.2 316.7 L460.6 255.5 L461.3 319.4 L462.4 320.9 L463.3 318.4 L463.9 252.7 L464.6 319.0 L465.3 320.5 L465.8 318.0 L466.4 253.5 L467.1 319.4 L468.0 320.9 L468.8 318.4 L469.4 253.5 L470.1 319.2 L470.9 320.7 L471.5 318.2 L472.1 254.2 L472.8 319.5 L472.6 319.0 L473.5 318.5 L474.5 332.9 L475.0 339.6 L475.5 344.5 L476.0 348.0 L476.5 350.6 L477.0 352.4 L477.5 353.7 L478.0 354.7 M478.0 354.7 L480.3 354.7 L480.7 343.0 L480.9 333.0 L481.5 227.5 L482.1 310.2 L482.5 314.2 L482.9 267.0 L483.3 316.4 L483.7 315.4 L484.0 263.0 L484.4 316.6 L484.8 315.6 L485.2 259.5 L485.7 316.5 L486.2 315.5 L486.6 257.0 L487.3 318.1 L488.2 319.6 L488.9 317.1 L489.5 254.5 L490.2 317.7 L490.9 319.2 L491.4 316.7 L492.0 254.5 L492.7 317.9 L493.5 319.4 L494.1 316.9 L494.7 255.0 L495.4 318.4 L496.2 319.9 L496.9 317.4 L497.5 254.5 L498.2 318.0 L498.4 317.5 L499.3 317.0 L500.3 331.8 L500.8 338.9 L501.2 344.0 L501.7 347.7 L502.2 350.4 L502.7 352.3 L503.1 353.7 L503.6 354.7 M503.6 354.7 L505.9 354.7 L506.2 343.0 L506.4 333.0 L507.0 227.3 L507.6 308.6 L508.0 312.6 L508.4 270.0 L508.8 313.3 L509.2 312.3 L509.6 265.0 L510.2 314.9 L510.9 313.9 L511.4 260.0 L512.1 314.8 L512.8 316.3 L513.4 313.8 L514.0 258.5 L514.7 315.7 L515.4 317.2 L516.0 314.7 L516.6 258.3 L517.3 316.3 L518.1 317.8 L518.7 315.3 L519.3 258.8 L520.0 315.8 L520.8 317.3 L521.4 314.8 L522.0 259.3 L522.7 315.8 L523.6 317.3 L524.3 314.8 L524.9 259.9 L525.6 316.0 L525.2 315.5 L526.1 315.0 L527.0 330.4 L527.5 337.9 L527.9 343.3 L528.3 347.3 L528.7 350.1 L529.1 352.2 L529.6 353.6 L530.0 354.7 M530.0 354.7 L532.3 354.7 L532.6 343.0 L532.7 333.0 L533.3 227.2 L533.9 307.4 L534.3 311.4 L534.7 273.0 L535.1 312.8 L535.5 311.8 L535.9 268.0 L536.5 314.0 L537.1 313.0 L537.6 264.0 L538.3 314.4 L539.0 315.9 L539.6 313.4 L540.2 262.0 L540.9 315.6 L541.6 317.1 L542.2 314.6 L542.8 260.5 L543.5 315.3 L544.2 316.8 L544.8 314.3 L545.4 260.5 L546.1 315.4 L546.8 316.9 L547.4 314.4 L548.0 261.5 L548.7 316.1 L549.4 317.6 L549.9 315.1 L550.5 263.0 L551.2 315.5 L551.0 315.0 L551.9 314.5 L552.9 330.1 L553.3 337.7 L553.8 343.2 L554.2 347.2 L554.7 350.0 L555.2 352.1 L555.6 353.6 L556.1 354.7 M556.1 354.7 L558.4 354.7 L558.6 343.0 L558.7 333.0 L559.3 227.0 L559.9 307.4 L560.3 311.4 L560.7 277.0 L561.1 312.9 L561.5 311.9 L561.9 270.0 L562.6 313.9 L563.4 312.9 L564.0 264.5 L564.7 314.0 L565.5 315.5 L566.2 313.0 L566.8 262.5 L567.5 314.6 L568.2 316.1 L568.8 313.6 L569.4 261.5 L570.1 315.5 L570.8 317.0 L571.4 314.5 L572.0 261.5 L572.7 315.4 L573.4 316.9 L574.0 314.4 L574.6 262.5 L575.3 312.0 L577.8 304.8 L578.2 304.3 L578.8 324.0 L579.2 333.5 L579.6 340.3 L580.1 345.3 L580.5 348.9 L580.9 351.5 L581.3 353.3 L581.7 354.7 M581.7 354.7 L584.0 354.7 L584.2 343.0 L584.2 333.0 L584.8 226.8 L585.4 305.8 L585.8 309.8 L586.2 280.0 L586.7 311.2 L587.1 310.2 L587.5 271.0 L588.1 312.4 L588.8 311.4 L589.3 264.4 L590.0 313.4 L590.5 314.9 L590.9 312.4 L591.5 264.0 L592.2 313.2 L593.0 312.2 L593.6 265.0 L594.3 314.2 L595.2 315.7 L596.0 313.2 L596.6 271.5 L597.3 314.2 L598.2 315.7 L599.0 313.2 L599.6 270.0 L600.3 313.8 L601.0 315.3 L601.5 312.8 L602.1 268.8 L602.8 310.7 L603.1 307.0 L603.5 306.5 L604.2 325.5 L604.7 334.5 L605.2 341.1 L605.7 345.8 L606.2 349.2 L606.7 351.6 L607.2 353.4 L607.7 354.7 M607.7 354.7 L610.0 354.7 L610.2 343.0 L610.2 333.0 L610.8 226.7 L611.4 304.6 L611.8 308.6 L612.3 284.0 L613.0 310.1 L613.6 311.6 L614.1 309.1 L614.7 271.8 L615.4 310.8 L616.0 312.3 L616.4 309.8 L617.0 267.0 L617.7 312.7 L618.2 314.2 L618.6 311.7 L619.2 264.4 L619.9 311.9 L620.7 310.9 L621.3 267.4 L622.0 312.4 L622.6 313.9 L623.1 311.4 L623.7 274.8 L624.4 311.9 L625.0 313.4 L625.4 310.9 L626.0 280.8 L626.7 309.2 L627.8 303.3 L628.2 302.8 L629.0 322.9 L629.6 332.7 L630.2 339.8 L630.8 345.0 L631.4 348.7 L632.0 351.4 L632.6 353.3 L633.2 354.7 M633.2 354.7 L635.5 354.7 L635.7 343.0 L635.6 333.0 L636.2 226.5 L636.8 304.0 L637.3 308.0 L637.8 285.0 L638.4 309.0 L639.1 308.0 L639.6 274.0 L640.3 309.0 L641.0 308.0 L641.6 268.8 L642.3 309.0 L642.9 310.5 L643.4 308.0 L644.0 270.3 L644.7 307.8 L645.6 309.3 L646.4 306.8 L647.0 277.8 L647.7 305.8 L649.0 307.3 L650.0 304.8 L650.6 286.8 L651.3 305.8 L654.6 301.8 L655.0 301.3 L655.8 321.9 L656.3 332.0 L656.9 339.4 L657.4 344.7 L658.0 348.5 L658.5 351.3 L659.1 353.3 L659.6 354.7 M659.6 354.7 L661.9 354.7 L662.1 343.0 L662.0 333.0 L662.6 226.4 L663.2 303.0 L663.7 307.0 L664.2 288.0 L664.7 308.0 L665.2 307.0 L665.6 277.8 L666.3 308.0 L667.2 307.0 L667.8 279.0 L668.5 308.0 L669.0 309.5 L669.4 307.0 L670.0 280.8 L670.7 306.8 L671.6 308.3 L672.4 305.8 L673.0 295.8 L673.7 304.4 L675.5 305.9 L676.9 303.4 L677.5 295.8 L678.2 305.0 L680.6 301.0 L681.0 300.5 L682.1 321.3 L682.9 331.6 L683.8 339.1 L684.6 344.5" fill="none" stroke="#ff0000" stroke-width="1.8" stroke-linejoin="miter" stroke-miterlimit="3"/>
<text x="50.4" y="40.0" font-size="27.5" fill="#000" text-anchor="start" >CA-</text>
<text x="529.8" y="20.4" font-size="20.8" fill="#000" text-anchor="start" >400</text>
<text x="575.0" y="20.4" font-size="21.2" fill="#000" text-anchor="start" >pA</text>
<text x="50.6" y="237.6" font-size="27.5" fill="#ff0000" text-anchor="start" >CA+</text>
<path d="M581.3 192.0 H609.1 V167.4" fill="none" stroke="#000" stroke-width="3.9" stroke-linejoin="miter"/>
<text x="615.0" y="185.2" font-size="20.3" fill="#000" text-anchor="start" >25 mV</text>
<text x="564.2" y="213.6" font-size="20.2" fill="#000" text-anchor="start" >500 ms</text>
<polyline points="7.2,489.0 20.0,489.3 35.0,489.2 48.3,489.2 49.3,487.5 50.2,483.0 51.1,479.8 52.6,475.0 54.4,469.5 55.6,466.0 56.0,440.0 56.4,398.0 56.9,430.0 57.5,458.0 58.3,466.0 58.9,467.4 59.8,465.5 61.1,460.0 62.2,443.0 63.0,430.0 63.7,425.0 64.4,429.0 65.3,445.0 66.1,456.5 66.9,461.5 68.2,461.3 70.0,459.3 72.7,457.2 73.8,451.0 74.7,437.0 75.7,428.7 76.6,432.0 77.7,441.0 78.9,448.4 80.2,454.5 81.5,458.6 82.9,460.7 84.4,461.5 87.5,460.6 90.9,459.3 91.7,455.8 92.3,446.6 92.9,433.1 93.3,425.7 93.5,423.9 94.2,426.2 95.3,433.2 96.9,443.2 98.9,453.3 101.3,459.5 104.0,462.0 107.0,462.6 112.0,462.0 115.5,461.3 118.6,460.8 119.5,456.3 120.2,444.5 120.9,427.3 121.3,417.8 121.5,415.5 122.0,418.5 122.8,427.3 124.0,440.1 125.5,452.9 127.3,460.8 129.3,464.0 131.5,464.7 136.0,464.3 140.5,463.3 144.1,462.5 144.9,457.6 145.6,444.8 146.3,426.1 146.7,415.8 146.9,413.3 147.4,416.4 148.1,425.7 149.2,439.1 150.6,452.6 152.3,460.9 154.2,464.2 156.2,465.0 160.5,464.6 166.0,463.2 170.6,462.0 171.4,456.9 172.1,443.6 172.7,424.1 173.1,413.4 173.3,410.8 173.7,414.1 174.4,424.0 175.5,438.3 176.7,452.6 178.3,461.4 180.0,465.0 181.9,465.8 186.0,465.2 192.0,463.6 198.2,461.9 199.0,456.8 199.7,443.5 200.3,424.1 200.7,413.4 200.9,410.8 201.3,414.1 202.0,424.0 203.1,438.3 204.3,452.6 205.9,461.4 207.6,465.0 209.5,465.8 215.0,465.0 223.0,463.4 230.6,461.9 231.4,456.7 232.1,443.0 232.7,423.1 233.1,412.1 233.3,409.5 233.7,412.9 234.4,423.0 235.5,437.6 236.7,452.3 238.3,461.3 240.0,465.0 241.9,465.8 248.0,465.0 256.0,463.4 263.3,461.9 264.1,456.7 264.8,443.0 265.4,423.1 265.8,412.1 266.0,409.5 266.4,412.9 267.1,423.0 268.2,437.6 269.5,452.3 271.1,461.3 272.9,465.0 274.8,465.8 282.0,464.8 289.0,463.4 294.0,462.2 294.9,462.2 295.4,468.0 296.6,473.4 299.9,476.4 303.2,478.8 306.5,480.9 309.7,482.6 313.0,484.0 316.3,485.1 319.6,486.0 322.9,486.8 326.1,487.5 329.4,488.0 332.7,488.4 336.0,488.8" fill="none" stroke="#000" stroke-width="2.1" stroke-linejoin="round"/>
<polyline points="342.2,490.0 355.0,490.0 370.0,489.7 382.8,489.5 384.0,487.5 385.0,482.0 386.1,477.2 387.4,473.0 388.7,469.5 389.2,466.0 389.5,440.0 389.9,399.9 390.4,430.0 391.0,457.0 391.9,466.5 392.8,468.8 393.8,467.3 396.1,460.0 397.3,444.0 398.2,432.0 399.0,428.2 399.8,431.0 400.9,446.0 401.8,456.5 402.6,461.5 403.6,462.5 404.8,462.6 408.0,460.6 411.5,458.4 415.1,456.4 416.2,453.8 417.1,446.9 417.9,436.9 418.4,431.4 418.7,430.1 419.3,432.0 420.3,437.8 421.8,446.2 423.7,454.6 426.0,459.7 428.5,461.8 431.3,462.3 437.0,460.8 442.0,459.2 447.1,457.0 448.2,453.9 449.1,446.0 450.0,434.4 450.5,428.0 450.8,426.5 451.5,428.7 452.5,435.2 454.1,444.6 456.1,453.9 458.5,459.7 461.1,462.1 464.0,462.6 470.0,461.3 476.0,459.8 481.5,457.4 482.6,454.3 483.6,446.1 484.5,434.2 485.0,427.7 485.3,426.1 485.9,428.2 486.9,434.6 488.4,443.9 490.2,453.1 492.4,458.8 494.8,461.1 497.5,461.6 504.0,460.6 511.0,459.0 516.0,457.8 519.8,456.4 520.9,453.1 521.8,444.6 522.6,432.1 523.1,425.2 523.4,423.6 524.0,425.9 524.9,432.6 526.3,442.4 528.0,452.2 530.1,458.2 532.4,460.6 535.0,461.2 541.0,460.6 548.0,459.0 553.9,457.4 558.1,456.7 559.1,453.6 560.0,445.4 560.8,433.5 561.2,426.9 561.5,425.3 562.0,427.5 562.8,434.1 564.0,443.6 565.6,453.0 567.4,458.9 569.5,461.3 571.7,461.8 578.0,460.8 589.6,458.2 597.0,456.0 601.3,454.5 603.0,451.8 603.8,449.5 604.8,447.4 605.7,441.8 606.5,433.7 606.9,429.3 607.2,428.2 607.7,430.2 608.5,436.1 609.8,444.6 611.3,453.2 613.1,458.5 615.2,460.6 617.4,461.1 623.0,461.2 629.6,461.1 630.2,462.0 630.6,465.0 631.2,468.4 634.5,472.2 637.7,475.3 641.0,477.9 644.2,480.1 647.5,481.8 650.7,483.3 654.0,484.5 657.2,485.5 660.5,486.3 663.7,487.0 667.0,487.5 670.2,488.0" fill="none" stroke="#ff0000" stroke-width="2.1" stroke-linejoin="round"/>
<text x="144.0" y="502.4" font-size="27.5" fill="#000" text-anchor="start" >CA-</text>
<text x="478.0" y="502.4" font-size="27.5" fill="#ff0000" text-anchor="start" >CA+</text>
<text x="90.9" y="404.0" font-size="20.0" fill="#000" text-anchor="start" >First</text>
<text x="195.0" y="404.0" font-size="20.0" fill="#000" text-anchor="start" >Last</text>
<text x="426.4" y="404.0" font-size="20.0" fill="#000" text-anchor="start" >First</text>
<text x="530.1" y="404.0" font-size="20.0" fill="#000" text-anchor="start" >Last</text>
<line x1="88.2" y1="396.4" x2="70.2" y2="396.4" stroke="#000" stroke-width="3.9"/>
<polygon points="60.2,396.4 71.2,390.9 71.2,401.9" fill="#000"/>
<line x1="423.2" y1="396.4" x2="405.4" y2="396.4" stroke="#000" stroke-width="3.9"/>
<polygon points="395.4,396.4 406.4,390.9 406.4,401.9" fill="#000"/>
<line x1="240.6" y1="399.4" x2="253.5" y2="406.9" stroke="#000" stroke-width="3.9"/>
<polygon points="262.1,412.0 249.8,411.2 255.4,401.7" fill="#000"/>
<line x1="578.6" y1="400.0" x2="595.8" y2="414.5" stroke="#000" stroke-width="3.9"/>
<polygon points="603.5,420.9 591.5,418.0 598.6,409.6" fill="#000"/>
<path d="M567.9 523.8 H607.8 V504.2" fill="none" stroke="#000" stroke-width="3.9" stroke-linejoin="miter"/>
<text x="613.6" y="522.1" font-size="20.4" fill="#000" text-anchor="start" >25 mV</text>
<text x="559.5" y="544.0" font-size="20.4" fill="#000" text-anchor="start" >50 ms</text>
<text x="1.2" y="21.9" font-size="27.5" fill="#000" text-anchor="start" >A</text>
<text x="1.5" y="220.4" font-size="27.5" fill="#000" text-anchor="start" >B</text>
<text x="13.0" y="399.8" font-size="27.5" fill="#000" text-anchor="start" >C</text>
<text x="333.0" y="399.8" font-size="27.5" fill="#000" text-anchor="start" >D</text>
<text x="36.0" y="567.1" font-size="27.5" fill="#000" text-anchor="start" >E</text>
<text x="443.0" y="568.6" font-size="27.5" fill="#000" text-anchor="start" >F</text>
<text x="0.5" y="744.8" font-size="27.5" fill="#000" text-anchor="start" >G</text>
<text x="225.0" y="749.8" font-size="27.5" fill="#000" text-anchor="start" >H</text>
<text x="452.5" y="749.8" font-size="27.5" fill="#000" text-anchor="start" >I</text>
<text x="1.5" y="904.8" font-size="27.5" fill="#000" text-anchor="start" >J</text>
<text x="229.0" y="905.1" font-size="27.5" fill="#000" text-anchor="start" >K</text>
<text x="448.0" y="905.1" font-size="27.5" fill="#000" text-anchor="start" >L</text>
<path d="M94.9 575.3 V686.5 H389.2" fill="none" stroke="#000" stroke-width="1.05"/>
<line x1="93.2" y1="686.6" x2="94.9" y2="686.6" stroke="#000" stroke-width="1.10"/>
<line x1="91.7" y1="674.3" x2="94.9" y2="674.3" stroke="#000" stroke-width="1.10"/>
<line x1="93.2" y1="662.0" x2="94.9" y2="662.0" stroke="#000" stroke-width="1.10"/>
<line x1="91.7" y1="649.8" x2="94.9" y2="649.8" stroke="#000" stroke-width="1.10"/>
<line x1="93.2" y1="637.5" x2="94.9" y2="637.5" stroke="#000" stroke-width="1.10"/>
<line x1="91.7" y1="625.2" x2="94.9" y2="625.2" stroke="#000" stroke-width="1.10"/>
<line x1="93.2" y1="612.9" x2="94.9" y2="612.9" stroke="#000" stroke-width="1.10"/>
<line x1="91.7" y1="600.6" x2="94.9" y2="600.6" stroke="#000" stroke-width="1.10"/>
<line x1="93.2" y1="588.4" x2="94.9" y2="588.4" stroke="#000" stroke-width="1.10"/>
<line x1="91.7" y1="576.1" x2="94.9" y2="576.1" stroke="#000" stroke-width="1.10"/>
<text x="85.7" y="677.8" font-size="10.0" fill="#000" text-anchor="end" >0</text>
<text x="85.7" y="653.2" font-size="10.0" fill="#000" text-anchor="end" >10</text>
<text x="85.7" y="628.7" font-size="10.0" fill="#000" text-anchor="end" >20</text>
<text x="85.7" y="604.1" font-size="10.0" fill="#000" text-anchor="end" >30</text>
<text x="85.7" y="579.6" font-size="10.0" fill="#000" text-anchor="end" >40</text>
<line x1="101.5" y1="686.5" x2="101.5" y2="689.7" stroke="#000" stroke-width="1.10"/>
<line x1="137.4" y1="686.5" x2="137.4" y2="688.2" stroke="#000" stroke-width="1.10"/>
<line x1="173.3" y1="686.5" x2="173.3" y2="689.7" stroke="#000" stroke-width="1.10"/>
<line x1="209.2" y1="686.5" x2="209.2" y2="688.2" stroke="#000" stroke-width="1.10"/>
<line x1="245.1" y1="686.5" x2="245.1" y2="689.7" stroke="#000" stroke-width="1.10"/>
<line x1="281.0" y1="686.5" x2="281.0" y2="688.2" stroke="#000" stroke-width="1.10"/>
<line x1="316.9" y1="686.5" x2="316.9" y2="689.7" stroke="#000" stroke-width="1.10"/>
<line x1="352.8" y1="686.5" x2="352.8" y2="688.2" stroke="#000" stroke-width="1.10"/>
<line x1="388.7" y1="686.5" x2="388.7" y2="689.7" stroke="#000" stroke-width="1.10"/>
<text x="101.5" y="704.9" font-size="10.2" fill="#000" text-anchor="middle" >0</text>
<text x="173.3" y="704.9" font-size="10.2" fill="#000" text-anchor="middle" >100</text>
<text x="245.1" y="704.9" font-size="10.2" fill="#000" text-anchor="middle" >200</text>
<text x="316.9" y="704.9" font-size="10.2" fill="#000" text-anchor="middle" >300</text>
<text x="388.7" y="704.9" font-size="10.2" fill="#000" text-anchor="middle" >400</text>
<text x="244.6" y="720.6" font-size="12.4" fill="#000" text-anchor="middle" >Injection Current (pA)</text>
<text transform="translate(65.7 631.0) rotate(-90)" font-size="12.4" text-anchor="middle">APs Frequency (Hz)</text>
<line x1="144.6" y1="672.3" x2="144.6" y2="669.9" stroke="#000" stroke-width="0.90"/>
<line x1="141.4" y1="672.3" x2="147.8" y2="672.3" stroke="#000" stroke-width="0.90"/>
<line x1="141.4" y1="669.9" x2="147.8" y2="669.9" stroke="#000" stroke-width="0.90"/>
<line x1="158.9" y1="669.1" x2="158.9" y2="664.7" stroke="#000" stroke-width="0.90"/>
<line x1="155.7" y1="669.1" x2="162.1" y2="669.1" stroke="#000" stroke-width="0.90"/>
<line x1="155.7" y1="664.7" x2="162.1" y2="664.7" stroke="#000" stroke-width="0.90"/>
<line x1="158.9" y1="671.1" x2="158.9" y2="667.2" stroke="#000" stroke-width="0.90"/>
<line x1="155.7" y1="671.1" x2="162.1" y2="671.1" stroke="#000" stroke-width="0.90"/>
<line x1="155.7" y1="667.2" x2="162.1" y2="667.2" stroke="#000" stroke-width="0.90"/>
<line x1="173.3" y1="665.2" x2="173.3" y2="655.9" stroke="#000" stroke-width="0.90"/>
<line x1="170.1" y1="665.2" x2="176.5" y2="665.2" stroke="#000" stroke-width="0.90"/>
<line x1="170.1" y1="655.9" x2="176.5" y2="655.9" stroke="#000" stroke-width="0.90"/>
<line x1="173.3" y1="666.4" x2="173.3" y2="656.6" stroke="#000" stroke-width="0.90"/>
<line x1="170.1" y1="666.4" x2="176.5" y2="666.4" stroke="#000" stroke-width="0.90"/>
<line x1="170.1" y1="656.6" x2="176.5" y2="656.6" stroke="#000" stroke-width="0.90"/>
<line x1="187.7" y1="656.1" x2="187.7" y2="645.8" stroke="#000" stroke-width="0.90"/>
<line x1="184.5" y1="656.1" x2="190.9" y2="656.1" stroke="#000" stroke-width="0.90"/>
<line x1="184.5" y1="645.8" x2="190.9" y2="645.8" stroke="#000" stroke-width="0.90"/>
<line x1="187.7" y1="657.0" x2="187.7" y2="646.2" stroke="#000" stroke-width="0.90"/>
<line x1="184.5" y1="657.0" x2="190.9" y2="657.0" stroke="#000" stroke-width="0.90"/>
<line x1="184.5" y1="646.2" x2="190.9" y2="646.2" stroke="#000" stroke-width="0.90"/>
<line x1="202.0" y1="645.8" x2="202.0" y2="638.5" stroke="#000" stroke-width="0.90"/>
<line x1="198.8" y1="645.8" x2="205.2" y2="645.8" stroke="#000" stroke-width="0.90"/>
<line x1="198.8" y1="638.5" x2="205.2" y2="638.5" stroke="#000" stroke-width="0.90"/>
<line x1="202.0" y1="646.3" x2="202.0" y2="638.9" stroke="#000" stroke-width="0.90"/>
<line x1="198.8" y1="646.3" x2="205.2" y2="646.3" stroke="#000" stroke-width="0.90"/>
<line x1="198.8" y1="638.9" x2="205.2" y2="638.9" stroke="#000" stroke-width="0.90"/>
<line x1="216.4" y1="638.2" x2="216.4" y2="631.8" stroke="#000" stroke-width="0.90"/>
<line x1="213.2" y1="638.2" x2="219.6" y2="638.2" stroke="#000" stroke-width="0.90"/>
<line x1="213.2" y1="631.8" x2="219.6" y2="631.8" stroke="#000" stroke-width="0.90"/>
<line x1="216.4" y1="639.7" x2="216.4" y2="633.3" stroke="#000" stroke-width="0.90"/>
<line x1="213.2" y1="639.7" x2="219.6" y2="639.7" stroke="#000" stroke-width="0.90"/>
<line x1="213.2" y1="633.3" x2="219.6" y2="633.3" stroke="#000" stroke-width="0.90"/>
<line x1="230.7" y1="629.1" x2="230.7" y2="623.2" stroke="#000" stroke-width="0.90"/>
<line x1="227.5" y1="629.1" x2="233.9" y2="629.1" stroke="#000" stroke-width="0.90"/>
<line x1="227.5" y1="623.2" x2="233.9" y2="623.2" stroke="#000" stroke-width="0.90"/>
<line x1="230.7" y1="634.3" x2="230.7" y2="628.4" stroke="#000" stroke-width="0.90"/>
<line x1="227.5" y1="634.3" x2="233.9" y2="634.3" stroke="#000" stroke-width="0.90"/>
<line x1="227.5" y1="628.4" x2="233.9" y2="628.4" stroke="#000" stroke-width="0.90"/>
<line x1="245.1" y1="624.7" x2="245.1" y2="618.8" stroke="#000" stroke-width="0.90"/>
<line x1="241.9" y1="624.7" x2="248.3" y2="624.7" stroke="#000" stroke-width="0.90"/>
<line x1="241.9" y1="618.8" x2="248.3" y2="618.8" stroke="#000" stroke-width="0.90"/>
<line x1="245.1" y1="627.2" x2="245.1" y2="621.3" stroke="#000" stroke-width="0.90"/>
<line x1="241.9" y1="627.2" x2="248.3" y2="627.2" stroke="#000" stroke-width="0.90"/>
<line x1="241.9" y1="621.3" x2="248.3" y2="621.3" stroke="#000" stroke-width="0.90"/>
<line x1="259.5" y1="619.3" x2="259.5" y2="613.9" stroke="#000" stroke-width="0.90"/>
<line x1="256.3" y1="619.3" x2="262.7" y2="619.3" stroke="#000" stroke-width="0.90"/>
<line x1="256.3" y1="613.9" x2="262.7" y2="613.9" stroke="#000" stroke-width="0.90"/>
<line x1="259.5" y1="622.3" x2="259.5" y2="616.9" stroke="#000" stroke-width="0.90"/>
<line x1="256.3" y1="622.3" x2="262.7" y2="622.3" stroke="#000" stroke-width="0.90"/>
<line x1="256.3" y1="616.9" x2="262.7" y2="616.9" stroke="#000" stroke-width="0.90"/>
<line x1="273.8" y1="613.4" x2="273.8" y2="608.0" stroke="#000" stroke-width="0.90"/>
<line x1="270.6" y1="613.4" x2="277.0" y2="613.4" stroke="#000" stroke-width="0.90"/>
<line x1="270.6" y1="608.0" x2="277.0" y2="608.0" stroke="#000" stroke-width="0.90"/>
<line x1="273.8" y1="618.3" x2="273.8" y2="612.9" stroke="#000" stroke-width="0.90"/>
<line x1="270.6" y1="618.3" x2="277.0" y2="618.3" stroke="#000" stroke-width="0.90"/>
<line x1="270.6" y1="612.9" x2="277.0" y2="612.9" stroke="#000" stroke-width="0.90"/>
<line x1="288.2" y1="608.3" x2="288.2" y2="602.9" stroke="#000" stroke-width="0.90"/>
<line x1="285.0" y1="608.3" x2="291.4" y2="608.3" stroke="#000" stroke-width="0.90"/>
<line x1="285.0" y1="602.9" x2="291.4" y2="602.9" stroke="#000" stroke-width="0.90"/>
<line x1="288.2" y1="613.9" x2="288.2" y2="608.5" stroke="#000" stroke-width="0.90"/>
<line x1="285.0" y1="613.9" x2="291.4" y2="613.9" stroke="#000" stroke-width="0.90"/>
<line x1="285.0" y1="608.5" x2="291.4" y2="608.5" stroke="#000" stroke-width="0.90"/>
<line x1="302.5" y1="604.3" x2="302.5" y2="598.9" stroke="#000" stroke-width="0.90"/>
<line x1="299.3" y1="604.3" x2="305.7" y2="604.3" stroke="#000" stroke-width="0.90"/>
<line x1="299.3" y1="598.9" x2="305.7" y2="598.9" stroke="#000" stroke-width="0.90"/>
<line x1="302.5" y1="610.7" x2="302.5" y2="605.3" stroke="#000" stroke-width="0.90"/>
<line x1="299.3" y1="610.7" x2="305.7" y2="610.7" stroke="#000" stroke-width="0.90"/>
<line x1="299.3" y1="605.3" x2="305.7" y2="605.3" stroke="#000" stroke-width="0.90"/>
<line x1="316.9" y1="600.9" x2="316.9" y2="595.5" stroke="#000" stroke-width="0.90"/>
<line x1="313.7" y1="600.9" x2="320.1" y2="600.9" stroke="#000" stroke-width="0.90"/>
<line x1="313.7" y1="595.5" x2="320.1" y2="595.5" stroke="#000" stroke-width="0.90"/>
<line x1="316.9" y1="608.8" x2="316.9" y2="603.4" stroke="#000" stroke-width="0.90"/>
<line x1="313.7" y1="608.8" x2="320.1" y2="608.8" stroke="#000" stroke-width="0.90"/>
<line x1="313.7" y1="603.4" x2="320.1" y2="603.4" stroke="#000" stroke-width="0.90"/>
<line x1="331.3" y1="597.5" x2="331.3" y2="592.1" stroke="#000" stroke-width="0.90"/>
<line x1="328.1" y1="597.5" x2="334.5" y2="597.5" stroke="#000" stroke-width="0.90"/>
<line x1="328.1" y1="592.1" x2="334.5" y2="592.1" stroke="#000" stroke-width="0.90"/>
<line x1="331.3" y1="606.1" x2="331.3" y2="600.6" stroke="#000" stroke-width="0.90"/>
<line x1="328.1" y1="606.1" x2="334.5" y2="606.1" stroke="#000" stroke-width="0.90"/>
<line x1="328.1" y1="600.6" x2="334.5" y2="600.6" stroke="#000" stroke-width="0.90"/>
<line x1="345.6" y1="594.3" x2="345.6" y2="588.9" stroke="#000" stroke-width="0.90"/>
<line x1="342.4" y1="594.3" x2="348.8" y2="594.3" stroke="#000" stroke-width="0.90"/>
<line x1="342.4" y1="588.9" x2="348.8" y2="588.9" stroke="#000" stroke-width="0.90"/>
<line x1="345.6" y1="601.9" x2="345.6" y2="596.5" stroke="#000" stroke-width="0.90"/>
<line x1="342.4" y1="601.9" x2="348.8" y2="601.9" stroke="#000" stroke-width="0.90"/>
<line x1="342.4" y1="596.5" x2="348.8" y2="596.5" stroke="#000" stroke-width="0.90"/>
<line x1="360.0" y1="591.6" x2="360.0" y2="586.2" stroke="#000" stroke-width="0.90"/>
<line x1="356.8" y1="591.6" x2="363.2" y2="591.6" stroke="#000" stroke-width="0.90"/>
<line x1="356.8" y1="586.2" x2="363.2" y2="586.2" stroke="#000" stroke-width="0.90"/>
<line x1="360.0" y1="599.9" x2="360.0" y2="594.5" stroke="#000" stroke-width="0.90"/>
<line x1="356.8" y1="599.9" x2="363.2" y2="599.9" stroke="#000" stroke-width="0.90"/>
<line x1="356.8" y1="594.5" x2="363.2" y2="594.5" stroke="#000" stroke-width="0.90"/>
<line x1="374.3" y1="589.8" x2="374.3" y2="584.0" stroke="#000" stroke-width="0.90"/>
<line x1="371.1" y1="589.8" x2="377.5" y2="589.8" stroke="#000" stroke-width="0.90"/>
<line x1="371.1" y1="584.0" x2="377.5" y2="584.0" stroke="#000" stroke-width="0.90"/>
<line x1="374.3" y1="598.9" x2="374.3" y2="593.5" stroke="#000" stroke-width="0.90"/>
<line x1="371.1" y1="598.9" x2="377.5" y2="598.9" stroke="#000" stroke-width="0.90"/>
<line x1="371.1" y1="593.5" x2="377.5" y2="593.5" stroke="#000" stroke-width="0.90"/>
<line x1="388.7" y1="587.4" x2="388.7" y2="581.5" stroke="#000" stroke-width="0.90"/>
<line x1="385.5" y1="587.4" x2="391.9" y2="587.4" stroke="#000" stroke-width="0.90"/>
<line x1="385.5" y1="581.5" x2="391.9" y2="581.5" stroke="#000" stroke-width="0.90"/>
<line x1="388.7" y1="598.9" x2="388.7" y2="593.5" stroke="#000" stroke-width="0.90"/>
<line x1="385.5" y1="598.9" x2="391.9" y2="598.9" stroke="#000" stroke-width="0.90"/>
<line x1="385.5" y1="593.5" x2="391.9" y2="593.5" stroke="#000" stroke-width="0.90"/>
<polyline points="101.5,674.3 115.9,674.3 130.2,674.3 144.6,671.1 158.9,666.9 173.3,660.6 187.7,651.0 202.0,642.1 216.4,635.0 230.7,626.2 245.1,621.8 259.5,616.6 273.8,610.7 288.2,605.6 302.5,601.6 316.9,598.2 331.3,594.8 345.6,591.6 360.0,588.9 374.3,586.9 388.7,584.4" fill="none" stroke="#000" stroke-width="1.1"/>
<circle cx="101.5" cy="674.3" r="4.0" fill="#fff" stroke="#8a8a8a" stroke-width="0.55"/>
<circle cx="115.9" cy="674.3" r="4.0" fill="#fff" stroke="#8a8a8a" stroke-width="0.55"/>
<circle cx="130.2" cy="674.3" r="4.0" fill="#fff" stroke="#8a8a8a" stroke-width="0.55"/>
<circle cx="144.6" cy="671.1" r="4.0" fill="#fff" stroke="#8a8a8a" stroke-width="0.55"/>
<circle cx="158.9" cy="666.9" r="4.0" fill="#fff" stroke="#8a8a8a" stroke-width="0.55"/>
<circle cx="173.3" cy="660.6" r="4.0" fill="#fff" stroke="#8a8a8a" stroke-width="0.55"/>
<circle cx="187.7" cy="651.0" r="4.0" fill="#fff" stroke="#8a8a8a" stroke-width="0.55"/>
<circle cx="202.0" cy="642.1" r="4.0" fill="#fff" stroke="#8a8a8a" stroke-width="0.55"/>
<circle cx="216.4" cy="635.0" r="4.0" fill="#fff" stroke="#8a8a8a" stroke-width="0.55"/>
<circle cx="230.7" cy="626.2" r="4.0" fill="#fff" stroke="#8a8a8a" stroke-width="0.55"/>
<circle cx="245.1" cy="621.8" r="4.0" fill="#fff" stroke="#8a8a8a" stroke-width="0.55"/>
<circle cx="259.5" cy="616.6" r="4.0" fill="#fff" stroke="#8a8a8a" stroke-width="0.55"/>
<circle cx="273.8" cy="610.7" r="4.0" fill="#fff" stroke="#8a8a8a" stroke-width="0.55"/>
<circle cx="288.2" cy="605.6" r="4.0" fill="#fff" stroke="#8a8a8a" stroke-width="0.55"/>
<circle cx="302.5" cy="601.6" r="4.0" fill="#fff" stroke="#8a8a8a" stroke-width="0.55"/>
<circle cx="316.9" cy="598.2" r="4.0" fill="#fff" stroke="#8a8a8a" stroke-width="0.55"/>
<circle cx="331.3" cy="594.8" r="4.0" fill="#fff" stroke="#8a8a8a" stroke-width="0.55"/>
<circle cx="345.6" cy="591.6" r="4.0" fill="#fff" stroke="#8a8a8a" stroke-width="0.55"/>
<circle cx="360.0" cy="588.9" r="4.0" fill="#fff" stroke="#8a8a8a" stroke-width="0.55"/>
<circle cx="374.3" cy="586.9" r="4.0" fill="#fff" stroke="#8a8a8a" stroke-width="0.55"/>
<circle cx="388.7" cy="584.4" r="4.0" fill="#fff" stroke="#8a8a8a" stroke-width="0.55"/>
<polyline points="101.5,674.3 115.9,674.3 130.2,674.3 144.6,674.1 158.9,669.1 173.3,661.5 187.7,651.6 202.0,642.6 216.4,636.5 230.7,631.3 245.1,624.2 259.5,619.6 273.8,615.6 288.2,611.2 302.5,608.0 316.9,606.1 331.3,603.4 345.6,599.2 360.0,597.2 374.3,596.2 388.7,596.2" fill="none" stroke="#ff0000" stroke-width="1.1"/>
<circle cx="101.5" cy="674.3" r="4.3" fill="#ff0000"/>
<circle cx="115.9" cy="674.3" r="4.3" fill="#ff0000"/>
<circle cx="130.2" cy="674.3" r="4.3" fill="#ff0000"/>
<circle cx="144.6" cy="674.1" r="4.3" fill="#ff0000"/>
<circle cx="158.9" cy="669.1" r="4.3" fill="#ff0000"/>
<circle cx="173.3" cy="661.5" r="4.3" fill="#ff0000"/>
<circle cx="187.7" cy="651.6" r="4.3" fill="#ff0000"/>
<circle cx="202.0" cy="642.6" r="4.3" fill="#ff0000"/>
<circle cx="216.4" cy="636.5" r="4.3" fill="#ff0000"/>
<circle cx="230.7" cy="631.3" r="4.3" fill="#ff0000"/>
<circle cx="245.1" cy="624.2" r="4.3" fill="#ff0000"/>
<circle cx="259.5" cy="619.6" r="4.3" fill="#ff0000"/>
<circle cx="273.8" cy="615.6" r="4.3" fill="#ff0000"/>
<circle cx="288.2" cy="611.2" r="4.3" fill="#ff0000"/>
<circle cx="302.5" cy="608.0" r="4.3" fill="#ff0000"/>
<circle cx="316.9" cy="606.1" r="4.3" fill="#ff0000"/>
<circle cx="331.3" cy="603.4" r="4.3" fill="#ff0000"/>
<circle cx="345.6" cy="599.2" r="4.3" fill="#ff0000"/>
<circle cx="360.0" cy="597.2" r="4.3" fill="#ff0000"/>
<circle cx="374.3" cy="596.2" r="4.3" fill="#ff0000"/>
<circle cx="388.7" cy="596.2" r="4.3" fill="#ff0000"/>
<rect x="124.7" y="576.8" width="67.8" height="37.6" fill="#fff" stroke="#000" stroke-width="1.2"/>
<line x1="128.2" y1="588.2" x2="156.2" y2="588.2" stroke="#000" stroke-width="1.10"/>
<circle cx="142.2" cy="588.2" r="4.0" fill="#fff" stroke="#8a8a8a" stroke-width="0.55"/>
<line x1="128.2" y1="603.2" x2="156.2" y2="603.2" stroke="#ff0000" stroke-width="1.10"/>
<circle cx="142.2" cy="603.2" r="4.3" fill="#ff0000"/>
<text x="163.6" y="592.6" font-size="12.4" fill="#000" text-anchor="start" >CA-</text>
<text x="163.6" y="607.5" font-size="12.4" fill="#000" text-anchor="start" >CA+</text>
<text x="230.6" y="627.6" font-size="21.5" fill="#000" text-anchor="middle" >*</text>
<text x="273.0" y="610.8" font-size="21.5" fill="#000" text-anchor="middle" >*</text>
<text x="288.2" y="606.4" font-size="21.5" fill="#000" text-anchor="middle" >*</text>
<text x="302.5" y="601.6" font-size="21.5" fill="#000" text-anchor="middle" >**</text>
<text x="352.6" y="571.2" font-size="21.5" fill="#000" text-anchor="middle" >***</text>
<path d="M316.9 595.4 V568.4 H388.7 V575.8" fill="none" stroke="#000" stroke-width="1.4"/>
<rect x="526.5" y="575.9" width="26.2" height="97.4" fill="#fff" stroke="#000" stroke-width="1.0"/>
<rect x="570.4" y="575.9" width="26.9" height="96.0" fill="#ff0000"/>
<line x1="539.6" y1="673.3" x2="539.6" y2="676.6" stroke="#000" stroke-width="0.90"/>
<line x1="526.0" y1="676.6" x2="553.2" y2="676.6" stroke="#000" stroke-width="0.90"/>
<line x1="583.8" y1="671.9" x2="583.8" y2="674.0" stroke="#000" stroke-width="0.90"/>
<line x1="570.4" y1="674.0" x2="597.3" y2="674.0" stroke="#000" stroke-width="0.90"/>
<path d="M617.5 575.9 H506.4 V686.7 H617.5" fill="none" stroke="#000" stroke-width="1.05"/>
<line x1="503.4" y1="575.9" x2="506.4" y2="575.9" stroke="#000" stroke-width="1.10"/>
<text x="498.2" y="579.4" font-size="10.0" fill="#000" text-anchor="end" >0</text>
<line x1="503.4" y1="603.5" x2="506.4" y2="603.5" stroke="#000" stroke-width="1.10"/>
<text x="498.2" y="607.0" font-size="10.0" fill="#000" text-anchor="end" >-20</text>
<line x1="503.4" y1="631.2" x2="506.4" y2="631.2" stroke="#000" stroke-width="1.10"/>
<text x="498.2" y="634.7" font-size="10.0" fill="#000" text-anchor="end" >-40</text>
<line x1="503.4" y1="658.8" x2="506.4" y2="658.8" stroke="#000" stroke-width="1.10"/>
<text x="498.2" y="662.3" font-size="10.0" fill="#000" text-anchor="end" >-60</text>
<line x1="503.4" y1="686.4" x2="506.4" y2="686.4" stroke="#000" stroke-width="1.10"/>
<text x="498.2" y="689.9" font-size="10.0" fill="#000" text-anchor="end" >-80</text>
<line x1="539.5" y1="669.3" x2="583.7" y2="665.8" stroke="#000" stroke-width="1.00"/>
<line x1="539.5" y1="671.5" x2="583.7" y2="667.5" stroke="#000" stroke-width="1.00"/>
<line x1="539.5" y1="673.6" x2="583.7" y2="672.1" stroke="#000" stroke-width="1.00"/>
<line x1="539.5" y1="673.6" x2="583.7" y2="673.0" stroke="#000" stroke-width="1.00"/>
<line x1="539.5" y1="675.9" x2="583.7" y2="673.0" stroke="#000" stroke-width="1.00"/>
<line x1="539.5" y1="677.9" x2="583.7" y2="676.9" stroke="#000" stroke-width="1.00"/>
<line x1="539.5" y1="675.9" x2="583.7" y2="672.1" stroke="#000" stroke-width="1.00"/>
<line x1="539.5" y1="671.5" x2="583.7" y2="673.0" stroke="#000" stroke-width="1.00"/>
<circle cx="539.5" cy="669.3" r="2.55" fill="#fff" stroke="#000" stroke-width="1.0"/>
<circle cx="539.5" cy="671.5" r="2.55" fill="#fff" stroke="#000" stroke-width="1.0"/>
<circle cx="539.5" cy="673.6" r="2.55" fill="#fff" stroke="#000" stroke-width="1.0"/>
<circle cx="539.5" cy="675.9" r="2.55" fill="#fff" stroke="#000" stroke-width="1.0"/>
<circle cx="539.5" cy="677.9" r="2.55" fill="#fff" stroke="#000" stroke-width="1.0"/>
<circle cx="583.7" cy="665.8" r="2.55" fill="#fff" stroke="#000" stroke-width="1.0"/>
<circle cx="583.7" cy="667.5" r="2.55" fill="#fff" stroke="#000" stroke-width="1.0"/>
<circle cx="583.7" cy="672.1" r="2.55" fill="#fff" stroke="#000" stroke-width="1.0"/>
<circle cx="583.7" cy="673.0" r="2.55" fill="#fff" stroke="#000" stroke-width="1.0"/>
<circle cx="583.7" cy="676.9" r="2.55" fill="#fff" stroke="#000" stroke-width="1.0"/>
<text x="539.5" y="701.4" font-size="10.1" fill="#000" text-anchor="middle" >CA-</text>
<text x="583.9" y="701.4" font-size="10.1" fill="#000" text-anchor="middle" >CA+</text>
<text transform="translate(461.0 631.7) rotate(-90)" font-size="12.4" text-anchor="middle">Resting Membrane</text>
<text transform="translate(475.7 631.0) rotate(-90)" font-size="12.4" text-anchor="middle">Potential (mV)</text>
<rect x="73.8" y="799.3" width="20.3" height="42.4" fill="#fff" stroke="#000" stroke-width="1.0"/>
<line x1="83.9" y1="799.3" x2="83.9" y2="796.7" stroke="#000" stroke-width="0.90"/>
<line x1="72.6" y1="796.7" x2="95.3" y2="796.7" stroke="#000" stroke-width="1.00"/>
<rect x="108.8" y="801.1" width="21.4" height="40.6" fill="#ff0000"/>
<line x1="119.5" y1="801.1" x2="119.5" y2="798.3" stroke="#000" stroke-width="0.90"/>
<line x1="108.1" y1="798.3" x2="130.9" y2="798.3" stroke="#000" stroke-width="1.00"/>
<rect x="154.2" y="786.6" width="21.2" height="55.1" fill="#fff" stroke="#000" stroke-width="1.0"/>
<line x1="164.8" y1="786.6" x2="164.8" y2="782.4" stroke="#000" stroke-width="0.90"/>
<line x1="153.0" y1="782.4" x2="176.6" y2="782.4" stroke="#000" stroke-width="1.00"/>
<rect x="189.8" y="781.9" width="21.4" height="59.8" fill="#ff0000"/>
<line x1="200.5" y1="781.9" x2="200.5" y2="778.9" stroke="#000" stroke-width="0.90"/>
<line x1="189.1" y1="778.9" x2="211.9" y2="778.9" stroke="#000" stroke-width="1.00"/>
<path d="M58.0 753.0 V841.7 H228.3" fill="none" stroke="#000" stroke-width="1.05"/>
<line x1="55.0" y1="841.7" x2="58.0" y2="841.7" stroke="#000" stroke-width="1.10"/>
<text x="49.4" y="845.2" font-size="10.0" fill="#000" text-anchor="end" >0</text>
<line x1="55.0" y1="819.7" x2="58.0" y2="819.7" stroke="#000" stroke-width="1.10"/>
<text x="49.4" y="823.2" font-size="10.0" fill="#000" text-anchor="end" >20</text>
<line x1="55.0" y1="797.6" x2="58.0" y2="797.6" stroke="#000" stroke-width="1.10"/>
<text x="49.4" y="801.1" font-size="10.0" fill="#000" text-anchor="end" >40</text>
<line x1="55.0" y1="775.5" x2="58.0" y2="775.5" stroke="#000" stroke-width="1.10"/>
<text x="49.4" y="779.0" font-size="10.0" fill="#000" text-anchor="end" >60</text>
<line x1="55.0" y1="753.5" x2="58.0" y2="753.5" stroke="#000" stroke-width="1.10"/>
<text x="49.4" y="757.0" font-size="10.0" fill="#000" text-anchor="end" >80</text>
<line x1="83.9" y1="787.7" x2="119.5" y2="789.8" stroke="#000" stroke-width="1.00"/>
<line x1="83.9" y1="791.0" x2="119.5" y2="795.9" stroke="#000" stroke-width="1.00"/>
<line x1="83.9" y1="794.1" x2="119.5" y2="799.3" stroke="#000" stroke-width="1.00"/>
<line x1="83.9" y1="796.9" x2="119.5" y2="802.2" stroke="#000" stroke-width="1.00"/>
<line x1="83.9" y1="799.9" x2="119.5" y2="799.3" stroke="#000" stroke-width="1.00"/>
<line x1="83.9" y1="808.1" x2="119.5" y2="802.2" stroke="#000" stroke-width="1.00"/>
<line x1="83.9" y1="813.1" x2="119.5" y2="806.4" stroke="#000" stroke-width="1.00"/>
<line x1="83.9" y1="812.7" x2="119.5" y2="814.6" stroke="#000" stroke-width="1.00"/>
<line x1="164.8" y1="768.8" x2="200.5" y2="766.0" stroke="#000" stroke-width="1.00"/>
<line x1="164.8" y1="778.9" x2="200.5" y2="773.0" stroke="#000" stroke-width="1.00"/>
<line x1="164.8" y1="781.7" x2="200.5" y2="776.5" stroke="#000" stroke-width="1.00"/>
<line x1="164.8" y1="781.7" x2="200.5" y2="780.0" stroke="#000" stroke-width="1.00"/>
<line x1="164.8" y1="784.7" x2="200.5" y2="780.0" stroke="#000" stroke-width="1.00"/>
<line x1="164.8" y1="789.4" x2="200.5" y2="783.5" stroke="#000" stroke-width="1.00"/>
<line x1="164.8" y1="798.3" x2="200.5" y2="787.7" stroke="#000" stroke-width="1.00"/>
<line x1="164.8" y1="801.1" x2="200.5" y2="792.9" stroke="#000" stroke-width="1.00"/>
<circle cx="83.9" cy="787.7" r="2.55" fill="#fff" stroke="#000" stroke-width="1.0"/>
<circle cx="83.9" cy="791.0" r="2.55" fill="#fff" stroke="#000" stroke-width="1.0"/>
<circle cx="83.9" cy="794.1" r="2.55" fill="#fff" stroke="#000" stroke-width="1.0"/>
<circle cx="83.9" cy="796.9" r="2.55" fill="#fff" stroke="#000" stroke-width="1.0"/>
<circle cx="83.9" cy="799.9" r="2.55" fill="#fff" stroke="#000" stroke-width="1.0"/>
<circle cx="83.9" cy="808.1" r="2.55" fill="#fff" stroke="#000" stroke-width="1.0"/>
<circle cx="83.9" cy="813.1" r="2.55" fill="#fff" stroke="#000" stroke-width="1.0"/>
<circle cx="83.9" cy="812.7" r="2.55" fill="#fff" stroke="#000" stroke-width="1.0"/>
<circle cx="119.5" cy="789.8" r="2.55" fill="#fff" stroke="#000" stroke-width="1.0"/>
<circle cx="119.5" cy="795.9" r="2.55" fill="#fff" stroke="#000" stroke-width="1.0"/>
<circle cx="119.5" cy="799.3" r="2.55" fill="#fff" stroke="#000" stroke-width="1.0"/>
<circle cx="119.5" cy="802.2" r="2.55" fill="#fff" stroke="#000" stroke-width="1.0"/>
<circle cx="119.5" cy="806.4" r="2.55" fill="#fff" stroke="#000" stroke-width="1.0"/>
<circle cx="119.5" cy="814.6" r="2.55" fill="#fff" stroke="#000" stroke-width="1.0"/>
<circle cx="164.8" cy="768.8" r="2.55" fill="#fff" stroke="#000" stroke-width="1.0"/>
<circle cx="164.8" cy="778.9" r="2.55" fill="#fff" stroke="#000" stroke-width="1.0"/>
<circle cx="164.8" cy="781.7" r="2.55" fill="#fff" stroke="#000" stroke-width="1.0"/>
<circle cx="164.8" cy="784.7" r="2.55" fill="#fff" stroke="#000" stroke-width="1.0"/>
<circle cx="164.8" cy="789.4" r="2.55" fill="#fff" stroke="#000" stroke-width="1.0"/>
<circle cx="164.8" cy="798.3" r="2.55" fill="#fff" stroke="#000" stroke-width="1.0"/>
<circle cx="164.8" cy="801.1" r="2.55" fill="#fff" stroke="#000" stroke-width="1.0"/>
<circle cx="200.5" cy="766.0" r="2.55" fill="#fff" stroke="#000" stroke-width="1.0"/>
<circle cx="200.5" cy="773.0" r="2.55" fill="#fff" stroke="#000" stroke-width="1.0"/>
<circle cx="200.5" cy="776.5" r="2.55" fill="#fff" stroke="#000" stroke-width="1.0"/>
<circle cx="200.5" cy="780.0" r="2.55" fill="#fff" stroke="#000" stroke-width="1.0"/>
<circle cx="200.5" cy="783.5" r="2.55" fill="#fff" stroke="#000" stroke-width="1.0"/>
<circle cx="200.5" cy="787.7" r="2.55" fill="#fff" stroke="#000" stroke-width="1.0"/>
<circle cx="200.5" cy="792.9" r="2.55" fill="#fff" stroke="#000" stroke-width="1.0"/>
<path d="M164.8 763.2 V748.5 H200.5 V759.0" fill="none" stroke="#000" stroke-width="1.5"/>
<text x="182.7" y="752.0" font-size="21.5" fill="#000" text-anchor="middle" >**</text>
<text x="84.2" y="856.9" font-size="10.1" fill="#000" text-anchor="middle" >CA-</text>
<text x="119.8" y="856.9" font-size="10.1" fill="#000" text-anchor="middle" >CA+</text>
<text x="165.1" y="856.9" font-size="10.1" fill="#000" text-anchor="middle" >CA-</text>
<text x="200.8" y="856.9" font-size="10.1" fill="#000" text-anchor="middle" >CA+</text>
<line x1="71.5" y1="862.5" x2="132.0" y2="862.5" stroke="#000" stroke-width="1.10"/>
<line x1="153.2" y1="862.5" x2="212.2" y2="862.5" stroke="#000" stroke-width="1.10"/>
<text x="103.5" y="872.0" font-size="10.3" fill="#000" text-anchor="middle" >First AP</text>
<text x="182.8" y="872.0" font-size="10.3" fill="#000" text-anchor="middle" >Last AP</text>
<text transform="translate(13.5 797.7) rotate(-90)" font-size="12.4" text-anchor="middle">APs Threshold</text>
<text transform="translate(28.5 797.6) rotate(-90)" font-size="12.4" text-anchor="middle">at 400 pA (mV)</text>
<rect x="302.1" y="769.1" width="20.7" height="72.6" fill="#fff" stroke="#000" stroke-width="1.0"/>
<line x1="312.5" y1="769.1" x2="312.5" y2="766.0" stroke="#000" stroke-width="0.90"/>
<line x1="300.9" y1="766.0" x2="324.0" y2="766.0" stroke="#000" stroke-width="1.00"/>
<rect x="336.6" y="770.2" width="21.3" height="71.5" fill="#ff0000"/>
<line x1="347.2" y1="770.2" x2="347.2" y2="767.2" stroke="#000" stroke-width="0.90"/>
<line x1="335.9" y1="767.2" x2="358.6" y2="767.2" stroke="#000" stroke-width="1.00"/>
<rect x="382.6" y="794.1" width="20.6" height="47.6" fill="#fff" stroke="#000" stroke-width="1.0"/>
<line x1="392.9" y1="794.1" x2="392.9" y2="791.7" stroke="#000" stroke-width="0.90"/>
<line x1="381.4" y1="791.7" x2="404.4" y2="791.7" stroke="#000" stroke-width="1.00"/>
<rect x="417.6" y="801.8" width="21.6" height="39.9" fill="#ff0000"/>
<line x1="428.4" y1="801.8" x2="428.4" y2="798.3" stroke="#000" stroke-width="0.90"/>
<line x1="416.9" y1="798.3" x2="439.9" y2="798.3" stroke="#000" stroke-width="1.00"/>
<path d="M285.8 753.0 V841.7 H456.1" fill="none" stroke="#000" stroke-width="1.05"/>
<line x1="282.8" y1="841.7" x2="285.8" y2="841.7" stroke="#000" stroke-width="1.10"/>
<text x="277.6" y="845.2" font-size="10.0" fill="#000" text-anchor="end" >0</text>
<line x1="282.8" y1="819.7" x2="285.8" y2="819.7" stroke="#000" stroke-width="1.10"/>
<text x="277.6" y="823.2" font-size="10.0" fill="#000" text-anchor="end" >30</text>
<line x1="282.8" y1="797.6" x2="285.8" y2="797.6" stroke="#000" stroke-width="1.10"/>
<text x="277.6" y="801.1" font-size="10.0" fill="#000" text-anchor="end" >60</text>
<line x1="282.8" y1="775.5" x2="285.8" y2="775.5" stroke="#000" stroke-width="1.10"/>
<text x="277.6" y="779.0" font-size="10.0" fill="#000" text-anchor="end" >90</text>
<line x1="282.8" y1="753.5" x2="285.8" y2="753.5" stroke="#000" stroke-width="1.10"/>
<text x="277.6" y="757.0" font-size="10.0" fill="#000" text-anchor="end" >120</text>
<line x1="312.5" y1="756.2" x2="347.2" y2="756.2" stroke="#000" stroke-width="1.00"/>
<line x1="312.5" y1="760.9" x2="347.2" y2="756.2" stroke="#000" stroke-width="1.00"/>
<line x1="312.5" y1="760.9" x2="347.2" y2="765.6" stroke="#000" stroke-width="1.00"/>
<line x1="312.5" y1="769.7" x2="347.2" y2="770.2" stroke="#000" stroke-width="1.00"/>
<line x1="312.5" y1="772.6" x2="347.2" y2="773.5" stroke="#000" stroke-width="1.00"/>
<line x1="312.5" y1="775.8" x2="347.2" y2="777.2" stroke="#000" stroke-width="1.00"/>
<line x1="312.5" y1="778.5" x2="347.2" y2="777.2" stroke="#000" stroke-width="1.00"/>
<line x1="312.5" y1="781.2" x2="347.2" y2="780.7" stroke="#000" stroke-width="1.00"/>
<line x1="392.9" y1="787.7" x2="428.4" y2="793.6" stroke="#000" stroke-width="1.00"/>
<line x1="392.9" y1="789.1" x2="428.4" y2="796.9" stroke="#000" stroke-width="1.00"/>
<line x1="392.9" y1="790.5" x2="428.4" y2="793.6" stroke="#000" stroke-width="1.00"/>
<line x1="392.9" y1="790.5" x2="428.4" y2="800.6" stroke="#000" stroke-width="1.00"/>
<line x1="392.9" y1="793.6" x2="428.4" y2="809.7" stroke="#000" stroke-width="1.00"/>
<line x1="392.9" y1="793.6" x2="428.4" y2="815.1" stroke="#000" stroke-width="1.00"/>
<line x1="392.9" y1="802.7" x2="428.4" y2="820.9" stroke="#000" stroke-width="1.00"/>
<line x1="392.9" y1="787.7" x2="428.4" y2="796.9" stroke="#000" stroke-width="1.00"/>
<circle cx="312.5" cy="756.2" r="2.55" fill="#fff" stroke="#000" stroke-width="1.0"/>
<circle cx="312.5" cy="760.9" r="2.55" fill="#fff" stroke="#000" stroke-width="1.0"/>
<circle cx="312.5" cy="772.6" r="2.55" fill="#fff" stroke="#000" stroke-width="1.0"/>
<circle cx="312.5" cy="775.8" r="2.55" fill="#fff" stroke="#000" stroke-width="1.0"/>
<circle cx="312.5" cy="781.2" r="2.55" fill="#fff" stroke="#000" stroke-width="1.0"/>
<circle cx="312.5" cy="769.7" r="2.55" fill="#fff" stroke="#000" stroke-width="1.0"/>
<circle cx="312.5" cy="778.5" r="2.55" fill="#fff" stroke="#000" stroke-width="1.0"/>
<circle cx="347.2" cy="756.2" r="2.55" fill="#fff" stroke="#000" stroke-width="1.0"/>
<circle cx="347.2" cy="765.6" r="2.55" fill="#fff" stroke="#000" stroke-width="1.0"/>
<circle cx="347.2" cy="770.2" r="2.55" fill="#fff" stroke="#000" stroke-width="1.0"/>
<circle cx="347.2" cy="773.5" r="2.55" fill="#fff" stroke="#000" stroke-width="1.0"/>
<circle cx="347.2" cy="777.2" r="2.55" fill="#fff" stroke="#000" stroke-width="1.0"/>
<circle cx="347.2" cy="780.7" r="2.55" fill="#fff" stroke="#000" stroke-width="1.0"/>
<circle cx="392.9" cy="787.7" r="2.55" fill="#fff" stroke="#000" stroke-width="1.0"/>
<circle cx="392.9" cy="790.5" r="2.55" fill="#fff" stroke="#000" stroke-width="1.0"/>
<circle cx="392.9" cy="793.6" r="2.55" fill="#fff" stroke="#000" stroke-width="1.0"/>
<circle cx="392.9" cy="802.7" r="2.55" fill="#fff" stroke="#000" stroke-width="1.0"/>
<circle cx="392.9" cy="789.1" r="2.55" fill="#fff" stroke="#000" stroke-width="1.0"/>
<circle cx="428.4" cy="793.6" r="2.55" fill="#fff" stroke="#000" stroke-width="1.0"/>
<circle cx="428.4" cy="796.9" r="2.55" fill="#fff" stroke="#000" stroke-width="1.0"/>
<circle cx="428.4" cy="800.6" r="2.55" fill="#fff" stroke="#000" stroke-width="1.0"/>
<circle cx="428.4" cy="809.7" r="2.55" fill="#fff" stroke="#000" stroke-width="1.0"/>
<circle cx="428.4" cy="815.1" r="2.55" fill="#fff" stroke="#000" stroke-width="1.0"/>
<circle cx="428.4" cy="820.9" r="2.55" fill="#fff" stroke="#000" stroke-width="1.0"/>
<path d="M392.9 775.4 V753.9 H428.4 V789.4" fill="none" stroke="#000" stroke-width="1.5"/>
<text x="410.6" y="757.6" font-size="21.5" fill="#000" text-anchor="middle" >**</text>
<text x="312.8" y="856.9" font-size="10.1" fill="#000" text-anchor="middle" >CA-</text>
<text x="347.6" y="856.9" font-size="10.1" fill="#000" text-anchor="middle" >CA+</text>
<text x="393.2" y="856.9" font-size="10.1" fill="#000" text-anchor="middle" >CA-</text>
<text x="428.7" y="856.9" font-size="10.1" fill="#000" text-anchor="middle" >CA+</text>
<line x1="299.8" y1="862.5" x2="359.7" y2="862.5" stroke="#000" stroke-width="1.10"/>
<line x1="381.6" y1="862.5" x2="440.2" y2="862.5" stroke="#000" stroke-width="1.10"/>
<text x="331.6" y="872.0" font-size="10.3" fill="#000" text-anchor="middle" >First AP</text>
<text x="410.9" y="872.0" font-size="10.3" fill="#000" text-anchor="middle" >Last AP</text>
<text transform="translate(241.9 797.0) rotate(-90)" font-size="12.4" text-anchor="middle">APs Peak</text>
<text transform="translate(256.7 797.6) rotate(-90)" font-size="12.4" text-anchor="middle">at 400 pA (mV)</text>
<rect x="522.4" y="763.2" width="20.6" height="78.5" fill="#fff" stroke="#000" stroke-width="1.0"/>
<line x1="532.7" y1="763.2" x2="532.7" y2="761.3" stroke="#000" stroke-width="0.90"/>
<line x1="521.2" y1="761.3" x2="544.2" y2="761.3" stroke="#000" stroke-width="1.00"/>
<rect x="557.4" y="764.6" width="21.6" height="77.1" fill="#ff0000"/>
<line x1="568.2" y1="764.6" x2="568.2" y2="761.8" stroke="#000" stroke-width="0.90"/>
<line x1="556.7" y1="761.8" x2="579.7" y2="761.8" stroke="#000" stroke-width="1.00"/>
<rect x="603.1" y="773.5" width="20.9" height="68.2" fill="#fff" stroke="#000" stroke-width="1.0"/>
<line x1="613.5" y1="773.5" x2="613.5" y2="772.9" stroke="#000" stroke-width="0.90"/>
<line x1="601.9" y1="772.9" x2="625.2" y2="772.9" stroke="#000" stroke-width="1.00"/>
<rect x="638.4" y="770.1" width="21.6" height="71.6" fill="#ff0000"/>
<line x1="649.2" y1="770.1" x2="649.2" y2="767.3" stroke="#000" stroke-width="0.90"/>
<line x1="637.7" y1="767.3" x2="660.7" y2="767.3" stroke="#000" stroke-width="1.00"/>
<path d="M506.5 753.0 V841.7 H676.8" fill="none" stroke="#000" stroke-width="1.05"/>
<line x1="503.5" y1="841.7" x2="506.5" y2="841.7" stroke="#000" stroke-width="1.10"/>
<text x="498.7" y="845.2" font-size="10.0" fill="#000" text-anchor="end" >0</text>
<line x1="503.5" y1="824.1" x2="506.5" y2="824.1" stroke="#000" stroke-width="1.10"/>
<text x="498.7" y="827.6" font-size="10.0" fill="#000" text-anchor="end" >2</text>
<line x1="503.5" y1="806.4" x2="506.5" y2="806.4" stroke="#000" stroke-width="1.10"/>
<text x="498.7" y="809.9" font-size="10.0" fill="#000" text-anchor="end" >4</text>
<line x1="503.5" y1="788.8" x2="506.5" y2="788.8" stroke="#000" stroke-width="1.10"/>
<text x="498.7" y="792.3" font-size="10.0" fill="#000" text-anchor="end" >6</text>
<line x1="503.5" y1="771.1" x2="506.5" y2="771.1" stroke="#000" stroke-width="1.10"/>
<text x="498.7" y="774.6" font-size="10.0" fill="#000" text-anchor="end" >8</text>
<line x1="503.5" y1="753.5" x2="506.5" y2="753.5" stroke="#000" stroke-width="1.10"/>
<text x="498.7" y="757.0" font-size="10.0" fill="#000" text-anchor="end" >10</text>
<line x1="532.7" y1="759.1" x2="568.2" y2="759.1" stroke="#000" stroke-width="1.00"/>
<line x1="532.7" y1="761.0" x2="568.2" y2="761.8" stroke="#000" stroke-width="1.00"/>
<line x1="532.7" y1="762.6" x2="568.2" y2="759.1" stroke="#000" stroke-width="1.00"/>
<line x1="532.7" y1="762.6" x2="568.2" y2="770.1" stroke="#000" stroke-width="1.00"/>
<line x1="532.7" y1="763.7" x2="568.2" y2="761.8" stroke="#000" stroke-width="1.00"/>
<line x1="532.7" y1="767.3" x2="568.2" y2="779.0" stroke="#000" stroke-width="1.00"/>
<line x1="532.7" y1="773.5" x2="568.2" y2="784.0" stroke="#000" stroke-width="1.00"/>
<line x1="532.7" y1="761.0" x2="568.2" y2="759.1" stroke="#000" stroke-width="1.00"/>
<line x1="613.5" y1="769.6" x2="649.2" y2="761.0" stroke="#000" stroke-width="1.00"/>
<line x1="613.5" y1="771.5" x2="649.2" y2="763.7" stroke="#000" stroke-width="1.00"/>
<line x1="613.5" y1="771.5" x2="649.2" y2="766.0" stroke="#000" stroke-width="1.00"/>
<line x1="613.5" y1="772.9" x2="649.2" y2="768.2" stroke="#000" stroke-width="1.00"/>
<line x1="613.5" y1="772.9" x2="649.2" y2="771.0" stroke="#000" stroke-width="1.00"/>
<line x1="613.5" y1="774.3" x2="649.2" y2="772.9" stroke="#000" stroke-width="1.00"/>
<line x1="613.5" y1="774.3" x2="649.2" y2="774.3" stroke="#000" stroke-width="1.00"/>
<line x1="613.5" y1="775.7" x2="649.2" y2="776.5" stroke="#000" stroke-width="1.00"/>
<line x1="613.5" y1="777.6" x2="649.2" y2="778.4" stroke="#000" stroke-width="1.00"/>
<circle cx="532.7" cy="759.1" r="2.55" fill="#fff" stroke="#000" stroke-width="1.0"/>
<circle cx="532.7" cy="761.0" r="2.55" fill="#fff" stroke="#000" stroke-width="1.0"/>
<circle cx="532.7" cy="762.6" r="2.55" fill="#fff" stroke="#000" stroke-width="1.0"/>
<circle cx="532.7" cy="763.7" r="2.55" fill="#fff" stroke="#000" stroke-width="1.0"/>
<circle cx="532.7" cy="767.3" r="2.55" fill="#fff" stroke="#000" stroke-width="1.0"/>
<circle cx="532.7" cy="773.5" r="2.55" fill="#fff" stroke="#000" stroke-width="1.0"/>
<circle cx="568.2" cy="759.1" r="2.55" fill="#fff" stroke="#000" stroke-width="1.0"/>
<circle cx="568.2" cy="761.8" r="2.55" fill="#fff" stroke="#000" stroke-width="1.0"/>
<circle cx="568.2" cy="770.1" r="2.55" fill="#fff" stroke="#000" stroke-width="1.0"/>
<circle cx="568.2" cy="779.0" r="2.55" fill="#fff" stroke="#000" stroke-width="1.0"/>
<circle cx="568.2" cy="784.0" r="2.55" fill="#fff" stroke="#000" stroke-width="1.0"/>
<circle cx="613.5" cy="769.6" r="2.55" fill="#fff" stroke="#000" stroke-width="1.0"/>
<circle cx="613.5" cy="771.5" r="2.55" fill="#fff" stroke="#000" stroke-width="1.0"/>
<circle cx="613.5" cy="772.9" r="2.55" fill="#fff" stroke="#000" stroke-width="1.0"/>
<circle cx="613.5" cy="774.3" r="2.55" fill="#fff" stroke="#000" stroke-width="1.0"/>
<circle cx="613.5" cy="775.7" r="2.55" fill="#fff" stroke="#000" stroke-width="1.0"/>
<circle cx="613.5" cy="777.6" r="2.55" fill="#fff" stroke="#000" stroke-width="1.0"/>
<circle cx="649.2" cy="761.0" r="2.55" fill="#fff" stroke="#000" stroke-width="1.0"/>
<circle cx="649.2" cy="763.7" r="2.55" fill="#fff" stroke="#000" stroke-width="1.0"/>
<circle cx="649.2" cy="766.0" r="2.55" fill="#fff" stroke="#000" stroke-width="1.0"/>
<circle cx="649.2" cy="768.2" r="2.55" fill="#fff" stroke="#000" stroke-width="1.0"/>
<circle cx="649.2" cy="771.0" r="2.55" fill="#fff" stroke="#000" stroke-width="1.0"/>
<circle cx="649.2" cy="772.9" r="2.55" fill="#fff" stroke="#000" stroke-width="1.0"/>
<circle cx="649.2" cy="774.3" r="2.55" fill="#fff" stroke="#000" stroke-width="1.0"/>
<circle cx="649.2" cy="776.5" r="2.55" fill="#fff" stroke="#000" stroke-width="1.0"/>
<circle cx="649.2" cy="778.4" r="2.55" fill="#fff" stroke="#000" stroke-width="1.0"/>
<path d="M613.5 761.3 V745.3 H649.2 V755.0" fill="none" stroke="#000" stroke-width="1.5"/>
<text x="631.4" y="749.2" font-size="21.5" fill="#000" text-anchor="middle" >*</text>
<text x="533.0" y="856.9" font-size="10.1" fill="#000" text-anchor="middle" >CA-</text>
<text x="568.5" y="856.9" font-size="10.1" fill="#000" text-anchor="middle" >CA+</text>
<text x="613.8" y="856.9" font-size="10.1" fill="#000" text-anchor="middle" >CA-</text>
<text x="649.5" y="856.9" font-size="10.1" fill="#000" text-anchor="middle" >CA+</text>
<line x1="520.1" y1="862.5" x2="580.8" y2="862.5" stroke="#000" stroke-width="1.10"/>
<line x1="602.1" y1="862.5" x2="661.0" y2="862.5" stroke="#000" stroke-width="1.10"/>
<text x="552.2" y="872.0" font-size="10.3" fill="#000" text-anchor="middle" >First AP</text>
<text x="631.6" y="872.0" font-size="10.3" fill="#000" text-anchor="middle" >Last AP</text>
<text transform="translate(466.9 797.6) rotate(-90)" font-size="12.4" text-anchor="middle">APs Rise Time</text>
<text transform="translate(481.9 797.0) rotate(-90)" font-size="12.4" text-anchor="middle">at 400 pA (ms)</text>
<rect x="73.8" y="972.2" width="20.3" height="32.4" fill="#fff" stroke="#000" stroke-width="1.0"/>
<line x1="83.9" y1="972.2" x2="83.9" y2="971.0" stroke="#000" stroke-width="0.90"/>
<line x1="72.6" y1="971.0" x2="95.3" y2="971.0" stroke="#000" stroke-width="1.00"/>
<rect x="108.8" y="971.0" width="21.4" height="33.6" fill="#ff0000"/>
<line x1="119.5" y1="971.0" x2="119.5" y2="969.6" stroke="#000" stroke-width="0.90"/>
<line x1="108.1" y1="969.6" x2="130.9" y2="969.6" stroke="#000" stroke-width="1.00"/>
<rect x="154.2" y="955.6" width="21.2" height="49.0" fill="#fff" stroke="#000" stroke-width="1.0"/>
<line x1="164.8" y1="955.6" x2="164.8" y2="952.4" stroke="#000" stroke-width="0.90"/>
<line x1="153.0" y1="952.4" x2="176.6" y2="952.4" stroke="#000" stroke-width="1.00"/>
<rect x="189.8" y="947.5" width="21.4" height="57.1" fill="#ff0000"/>
<line x1="200.5" y1="947.5" x2="200.5" y2="942.7" stroke="#000" stroke-width="0.90"/>
<line x1="189.1" y1="942.7" x2="211.9" y2="942.7" stroke="#000" stroke-width="1.00"/>
<path d="M58.0 915.7 V1004.6 H228.3" fill="none" stroke="#000" stroke-width="1.05"/>
<line x1="55.0" y1="1004.6" x2="58.0" y2="1004.6" stroke="#000" stroke-width="1.10"/>
<text x="49.4" y="1008.1" font-size="10.0" fill="#000" text-anchor="end" >0</text>
<line x1="55.0" y1="986.9" x2="58.0" y2="986.9" stroke="#000" stroke-width="1.10"/>
<text x="49.4" y="990.4" font-size="10.0" fill="#000" text-anchor="end" >1</text>
<line x1="55.0" y1="969.2" x2="58.0" y2="969.2" stroke="#000" stroke-width="1.10"/>
<text x="49.4" y="972.7" font-size="10.0" fill="#000" text-anchor="end" >2</text>
<line x1="55.0" y1="951.6" x2="58.0" y2="951.6" stroke="#000" stroke-width="1.10"/>
<text x="49.4" y="955.1" font-size="10.0" fill="#000" text-anchor="end" >3</text>
<line x1="55.0" y1="933.9" x2="58.0" y2="933.9" stroke="#000" stroke-width="1.10"/>
<text x="49.4" y="937.4" font-size="10.0" fill="#000" text-anchor="end" >4</text>
<line x1="55.0" y1="916.2" x2="58.0" y2="916.2" stroke="#000" stroke-width="1.10"/>
<text x="49.4" y="919.7" font-size="10.0" fill="#000" text-anchor="end" >5</text>
<line x1="83.9" y1="966.8" x2="119.5" y2="965.4" stroke="#000" stroke-width="1.00"/>
<line x1="83.9" y1="969.1" x2="119.5" y2="967.3" stroke="#000" stroke-width="1.00"/>
<line x1="83.9" y1="971.0" x2="119.5" y2="969.6" stroke="#000" stroke-width="1.00"/>
<line x1="83.9" y1="973.1" x2="119.5" y2="971.4" stroke="#000" stroke-width="1.00"/>
<line x1="83.9" y1="975.1" x2="119.5" y2="973.7" stroke="#000" stroke-width="1.00"/>
<line x1="83.9" y1="976.5" x2="119.5" y2="976.0" stroke="#000" stroke-width="1.00"/>
<line x1="83.9" y1="973.1" x2="119.5" y2="969.6" stroke="#000" stroke-width="1.00"/>
<line x1="83.9" y1="971.0" x2="119.5" y2="967.3" stroke="#000" stroke-width="1.00"/>
<line x1="164.8" y1="940.6" x2="200.5" y2="923.1" stroke="#000" stroke-width="1.00"/>
<line x1="164.8" y1="944.7" x2="200.5" y2="940.6" stroke="#000" stroke-width="1.00"/>
<line x1="164.8" y1="948.2" x2="200.5" y2="923.1" stroke="#000" stroke-width="1.00"/>
<line x1="164.8" y1="948.2" x2="200.5" y2="943.8" stroke="#000" stroke-width="1.00"/>
<line x1="164.8" y1="951.6" x2="200.5" y2="943.8" stroke="#000" stroke-width="1.00"/>
<line x1="164.8" y1="954.2" x2="200.5" y2="950.1" stroke="#000" stroke-width="1.00"/>
<line x1="164.8" y1="957.7" x2="200.5" y2="954.2" stroke="#000" stroke-width="1.00"/>
<line x1="164.8" y1="960.4" x2="200.5" y2="957.7" stroke="#000" stroke-width="1.00"/>
<line x1="164.8" y1="968.7" x2="200.5" y2="960.4" stroke="#000" stroke-width="1.00"/>
<circle cx="83.9" cy="966.8" r="2.55" fill="#fff" stroke="#000" stroke-width="1.0"/>
<circle cx="83.9" cy="969.1" r="2.55" fill="#fff" stroke="#000" stroke-width="1.0"/>
<circle cx="83.9" cy="971.0" r="2.55" fill="#fff" stroke="#000" stroke-width="1.0"/>
<circle cx="83.9" cy="973.1" r="2.55" fill="#fff" stroke="#000" stroke-width="1.0"/>
<circle cx="83.9" cy="975.1" r="2.55" fill="#fff" stroke="#000" stroke-width="1.0"/>
<circle cx="83.9" cy="976.5" r="2.55" fill="#fff" stroke="#000" stroke-width="1.0"/>
<circle cx="119.5" cy="965.4" r="2.55" fill="#fff" stroke="#000" stroke-width="1.0"/>
<circle cx="119.5" cy="967.3" r="2.55" fill="#fff" stroke="#000" stroke-width="1.0"/>
<circle cx="119.5" cy="969.6" r="2.55" fill="#fff" stroke="#000" stroke-width="1.0"/>
<circle cx="119.5" cy="971.4" r="2.55" fill="#fff" stroke="#000" stroke-width="1.0"/>
<circle cx="119.5" cy="973.7" r="2.55" fill="#fff" stroke="#000" stroke-width="1.0"/>
<circle cx="119.5" cy="976.0" r="2.55" fill="#fff" stroke="#000" stroke-width="1.0"/>
<circle cx="164.8" cy="940.6" r="2.55" fill="#fff" stroke="#000" stroke-width="1.0"/>
<circle cx="164.8" cy="944.7" r="2.55" fill="#fff" stroke="#000" stroke-width="1.0"/>
<circle cx="164.8" cy="948.2" r="2.55" fill="#fff" stroke="#000" stroke-width="1.0"/>
<circle cx="164.8" cy="951.6" r="2.55" fill="#fff" stroke="#000" stroke-width="1.0"/>
<circle cx="164.8" cy="954.2" r="2.55" fill="#fff" stroke="#000" stroke-width="1.0"/>
<circle cx="164.8" cy="957.7" r="2.55" fill="#fff" stroke="#000" stroke-width="1.0"/>
<circle cx="164.8" cy="960.4" r="2.55" fill="#fff" stroke="#000" stroke-width="1.0"/>
<circle cx="164.8" cy="968.7" r="2.55" fill="#fff" stroke="#000" stroke-width="1.0"/>
<circle cx="200.5" cy="923.1" r="2.55" fill="#fff" stroke="#000" stroke-width="1.0"/>
<circle cx="200.5" cy="940.6" r="2.55" fill="#fff" stroke="#000" stroke-width="1.0"/>
<circle cx="200.5" cy="943.8" r="2.55" fill="#fff" stroke="#000" stroke-width="1.0"/>
<circle cx="200.5" cy="950.1" r="2.55" fill="#fff" stroke="#000" stroke-width="1.0"/>
<circle cx="200.5" cy="954.2" r="2.55" fill="#fff" stroke="#000" stroke-width="1.0"/>
<circle cx="200.5" cy="957.7" r="2.55" fill="#fff" stroke="#000" stroke-width="1.0"/>
<circle cx="200.5" cy="960.4" r="2.55" fill="#fff" stroke="#000" stroke-width="1.0"/>
<path d="M83.9 959.9 V943.3 H119.5 V957.7" fill="none" stroke="#000" stroke-width="1.5"/>
<text x="101.7" y="947.2" font-size="21.5" fill="#000" text-anchor="middle" >*</text>
<path d="M164.8 932.7 V903.9 H200.5 V915.0" fill="none" stroke="#000" stroke-width="1.5"/>
<text x="182.7" y="908.4" font-size="21.5" fill="#000" text-anchor="middle" >*</text>
<text x="84.2" y="1019.8" font-size="10.1" fill="#000" text-anchor="middle" >CA-</text>
<text x="119.8" y="1019.8" font-size="10.1" fill="#000" text-anchor="middle" >CA+</text>
<text x="165.1" y="1019.8" font-size="10.1" fill="#000" text-anchor="middle" >CA-</text>
<text x="200.8" y="1019.8" font-size="10.1" fill="#000" text-anchor="middle" >CA+</text>
<line x1="71.5" y1="1025.4" x2="132.0" y2="1025.4" stroke="#000" stroke-width="1.10"/>
<line x1="153.2" y1="1025.4" x2="212.2" y2="1025.4" stroke="#000" stroke-width="1.10"/>
<text x="103.5" y="1034.9" font-size="10.3" fill="#000" text-anchor="middle" >First AP</text>
<text x="182.8" y="1034.9" font-size="10.3" fill="#000" text-anchor="middle" >Last AP</text>
<text transform="translate(16.9 960.7) rotate(-90)" font-size="12.4" text-anchor="middle">APs Decay Time</text>
<text transform="translate(32.3 960.1) rotate(-90)" font-size="12.4" text-anchor="middle">at 400 pA (ms)</text>
<rect x="302.1" y="982.5" width="20.7" height="22.1" fill="#fff" stroke="#000" stroke-width="1.0"/>
<line x1="312.5" y1="982.5" x2="312.5" y2="981.9" stroke="#000" stroke-width="0.90"/>
<line x1="300.9" y1="981.9" x2="324.0" y2="981.9" stroke="#000" stroke-width="1.00"/>
<rect x="336.6" y="981.2" width="21.3" height="23.4" fill="#ff0000"/>
<line x1="347.2" y1="981.2" x2="347.2" y2="979.7" stroke="#000" stroke-width="0.90"/>
<line x1="335.9" y1="979.7" x2="358.6" y2="979.7" stroke="#000" stroke-width="1.00"/>
<rect x="382.6" y="971.5" width="20.6" height="33.1" fill="#fff" stroke="#000" stroke-width="1.0"/>
<line x1="392.9" y1="971.5" x2="392.9" y2="969.6" stroke="#000" stroke-width="0.90"/>
<line x1="381.4" y1="969.6" x2="404.4" y2="969.6" stroke="#000" stroke-width="1.00"/>
<rect x="417.6" y="964.0" width="21.6" height="40.6" fill="#ff0000"/>
<line x1="428.4" y1="964.0" x2="428.4" y2="959.3" stroke="#000" stroke-width="0.90"/>
<line x1="416.9" y1="959.3" x2="439.9" y2="959.3" stroke="#000" stroke-width="1.00"/>
<path d="M285.8 915.7 V1004.6 H456.1" fill="none" stroke="#000" stroke-width="1.05"/>
<line x1="282.8" y1="1004.6" x2="285.8" y2="1004.6" stroke="#000" stroke-width="1.10"/>
<text x="277.6" y="1008.1" font-size="10.0" fill="#000" text-anchor="end" >0</text>
<line x1="282.8" y1="982.5" x2="285.8" y2="982.5" stroke="#000" stroke-width="1.10"/>
<text x="277.6" y="986.0" font-size="10.0" fill="#000" text-anchor="end" >2</text>
<line x1="282.8" y1="960.4" x2="285.8" y2="960.4" stroke="#000" stroke-width="1.10"/>
<text x="277.6" y="963.9" font-size="10.0" fill="#000" text-anchor="end" >4</text>
<line x1="282.8" y1="938.3" x2="285.8" y2="938.3" stroke="#000" stroke-width="1.10"/>
<text x="277.6" y="941.8" font-size="10.0" fill="#000" text-anchor="end" >6</text>
<line x1="282.8" y1="916.2" x2="285.8" y2="916.2" stroke="#000" stroke-width="1.10"/>
<text x="277.6" y="919.7" font-size="10.0" fill="#000" text-anchor="end" >8</text>
<line x1="312.5" y1="975.1" x2="347.2" y2="972.3" stroke="#000" stroke-width="1.00"/>
<line x1="312.5" y1="978.6" x2="347.2" y2="977.7" stroke="#000" stroke-width="1.00"/>
<line x1="312.5" y1="980.6" x2="347.2" y2="980.6" stroke="#000" stroke-width="1.00"/>
<line x1="312.5" y1="982.5" x2="347.2" y2="982.5" stroke="#000" stroke-width="1.00"/>
<line x1="312.5" y1="984.2" x2="347.2" y2="984.7" stroke="#000" stroke-width="1.00"/>
<line x1="312.5" y1="986.0" x2="347.2" y2="986.9" stroke="#000" stroke-width="1.00"/>
<line x1="312.5" y1="982.5" x2="347.2" y2="980.6" stroke="#000" stroke-width="1.00"/>
<line x1="312.5" y1="980.6" x2="347.2" y2="977.7" stroke="#000" stroke-width="1.00"/>
<line x1="392.9" y1="963.5" x2="428.4" y2="933.5" stroke="#000" stroke-width="1.00"/>
<line x1="392.9" y1="963.5" x2="428.4" y2="941.1" stroke="#000" stroke-width="1.00"/>
<line x1="392.9" y1="966.3" x2="428.4" y2="958.5" stroke="#000" stroke-width="1.00"/>
<line x1="392.9" y1="968.9" x2="428.4" y2="962.1" stroke="#000" stroke-width="1.00"/>
<line x1="392.9" y1="968.9" x2="428.4" y2="965.9" stroke="#000" stroke-width="1.00"/>
<line x1="392.9" y1="971.7" x2="428.4" y2="968.7" stroke="#000" stroke-width="1.00"/>
<line x1="392.9" y1="975.1" x2="428.4" y2="972.3" stroke="#000" stroke-width="1.00"/>
<line x1="392.9" y1="975.1" x2="428.4" y2="975.6" stroke="#000" stroke-width="1.00"/>
<line x1="392.9" y1="980.6" x2="428.4" y2="975.6" stroke="#000" stroke-width="1.00"/>
<circle cx="312.5" cy="975.1" r="2.55" fill="#fff" stroke="#000" stroke-width="1.0"/>
<circle cx="312.5" cy="978.6" r="2.55" fill="#fff" stroke="#000" stroke-width="1.0"/>
<circle cx="312.5" cy="980.6" r="2.55" fill="#fff" stroke="#000" stroke-width="1.0"/>
<circle cx="312.5" cy="982.5" r="2.55" fill="#fff" stroke="#000" stroke-width="1.0"/>
<circle cx="312.5" cy="984.2" r="2.55" fill="#fff" stroke="#000" stroke-width="1.0"/>
<circle cx="312.5" cy="986.0" r="2.55" fill="#fff" stroke="#000" stroke-width="1.0"/>
<circle cx="347.2" cy="972.3" r="2.55" fill="#fff" stroke="#000" stroke-width="1.0"/>
<circle cx="347.2" cy="977.7" r="2.55" fill="#fff" stroke="#000" stroke-width="1.0"/>
<circle cx="347.2" cy="980.6" r="2.55" fill="#fff" stroke="#000" stroke-width="1.0"/>
<circle cx="347.2" cy="982.5" r="2.55" fill="#fff" stroke="#000" stroke-width="1.0"/>
<circle cx="347.2" cy="984.7" r="2.55" fill="#fff" stroke="#000" stroke-width="1.0"/>
<circle cx="347.2" cy="986.9" r="2.55" fill="#fff" stroke="#000" stroke-width="1.0"/>
<circle cx="392.9" cy="963.5" r="2.55" fill="#fff" stroke="#000" stroke-width="1.0"/>
<circle cx="392.9" cy="966.3" r="2.55" fill="#fff" stroke="#000" stroke-width="1.0"/>
<circle cx="392.9" cy="968.9" r="2.55" fill="#fff" stroke="#000" stroke-width="1.0"/>
<circle cx="392.9" cy="971.7" r="2.55" fill="#fff" stroke="#000" stroke-width="1.0"/>
<circle cx="392.9" cy="975.1" r="2.55" fill="#fff" stroke="#000" stroke-width="1.0"/>
<circle cx="392.9" cy="980.6" r="2.55" fill="#fff" stroke="#000" stroke-width="1.0"/>
<circle cx="428.4" cy="933.5" r="2.55" fill="#fff" stroke="#000" stroke-width="1.0"/>
<circle cx="428.4" cy="941.1" r="2.55" fill="#fff" stroke="#000" stroke-width="1.0"/>
<circle cx="428.4" cy="958.5" r="2.55" fill="#fff" stroke="#000" stroke-width="1.0"/>
<circle cx="428.4" cy="962.1" r="2.55" fill="#fff" stroke="#000" stroke-width="1.0"/>
<circle cx="428.4" cy="965.9" r="2.55" fill="#fff" stroke="#000" stroke-width="1.0"/>
<circle cx="428.4" cy="968.7" r="2.55" fill="#fff" stroke="#000" stroke-width="1.0"/>
<circle cx="428.4" cy="972.3" r="2.55" fill="#fff" stroke="#000" stroke-width="1.0"/>
<circle cx="428.4" cy="975.6" r="2.55" fill="#fff" stroke="#000" stroke-width="1.0"/>
<path d="M312.5 967.7 V955.7 H347.2 V966.3" fill="none" stroke="#000" stroke-width="1.5"/>
<text x="329.9" y="959.2" font-size="21.5" fill="#000" text-anchor="middle" >*</text>
<path d="M392.9 957.7 V912.7 H428.4 V923.8" fill="none" stroke="#000" stroke-width="1.5"/>
<text x="410.6" y="916.7" font-size="21.5" fill="#000" text-anchor="middle" >*</text>
<text x="312.8" y="1019.8" font-size="10.1" fill="#000" text-anchor="middle" >CA-</text>
<text x="347.6" y="1019.8" font-size="10.1" fill="#000" text-anchor="middle" >CA+</text>
<text x="393.2" y="1019.8" font-size="10.1" fill="#000" text-anchor="middle" >CA-</text>
<text x="428.7" y="1019.8" font-size="10.1" fill="#000" text-anchor="middle" >CA+</text>
<line x1="299.8" y1="1025.4" x2="359.7" y2="1025.4" stroke="#000" stroke-width="1.10"/>
<line x1="381.6" y1="1025.4" x2="440.2" y2="1025.4" stroke="#000" stroke-width="1.10"/>
<text x="331.6" y="1034.9" font-size="10.3" fill="#000" text-anchor="middle" >First AP</text>
<text x="410.9" y="1034.9" font-size="10.3" fill="#000" text-anchor="middle" >Last AP</text>
<text transform="translate(244.8 961.0) rotate(-90)" font-size="12.4" text-anchor="middle">APs Halfwidth</text>
<text transform="translate(259.4 960.1) rotate(-90)" font-size="12.4" text-anchor="middle">at 400 pA (ms)</text>
<rect x="522.4" y="957.7" width="20.6" height="46.9" fill="#fff" stroke="#000" stroke-width="1.0"/>
<line x1="532.7" y1="957.7" x2="532.7" y2="955.1" stroke="#000" stroke-width="0.90"/>
<line x1="521.2" y1="955.1" x2="544.2" y2="955.1" stroke="#000" stroke-width="1.00"/>
<rect x="557.4" y="957.0" width="21.6" height="47.6" fill="#ff0000"/>
<line x1="568.2" y1="957.0" x2="568.2" y2="954.4" stroke="#000" stroke-width="0.90"/>
<line x1="556.7" y1="954.4" x2="579.7" y2="954.4" stroke="#000" stroke-width="1.00"/>
<rect x="603.1" y="936.4" width="20.9" height="68.2" fill="#fff" stroke="#000" stroke-width="1.0"/>
<line x1="613.5" y1="936.4" x2="613.5" y2="927.5" stroke="#000" stroke-width="0.90"/>
<line x1="601.9" y1="927.5" x2="625.2" y2="927.5" stroke="#000" stroke-width="1.00"/>
<rect x="638.4" y="934.2" width="21.6" height="70.4" fill="#ff0000"/>
<line x1="649.2" y1="934.2" x2="649.2" y2="925.9" stroke="#000" stroke-width="0.90"/>
<line x1="637.7" y1="925.9" x2="660.7" y2="925.9" stroke="#000" stroke-width="1.00"/>
<path d="M506.5 915.7 V1004.6 H676.8" fill="none" stroke="#000" stroke-width="1.05"/>
<line x1="503.5" y1="1004.6" x2="506.5" y2="1004.6" stroke="#000" stroke-width="1.10"/>
<text x="498.7" y="1008.1" font-size="10.0" fill="#000" text-anchor="end" >0</text>
<line x1="503.5" y1="986.9" x2="506.5" y2="986.9" stroke="#000" stroke-width="1.10"/>
<text x="498.7" y="990.4" font-size="10.0" fill="#000" text-anchor="end" >100</text>
<line x1="503.5" y1="969.2" x2="506.5" y2="969.2" stroke="#000" stroke-width="1.10"/>
<text x="498.7" y="972.7" font-size="10.0" fill="#000" text-anchor="end" >200</text>
<line x1="503.5" y1="951.6" x2="506.5" y2="951.6" stroke="#000" stroke-width="1.10"/>
<text x="498.7" y="955.1" font-size="10.0" fill="#000" text-anchor="end" >300</text>
<line x1="503.5" y1="933.9" x2="506.5" y2="933.9" stroke="#000" stroke-width="1.10"/>
<text x="498.7" y="937.4" font-size="10.0" fill="#000" text-anchor="end" >400</text>
<line x1="503.5" y1="916.2" x2="506.5" y2="916.2" stroke="#000" stroke-width="1.10"/>
<text x="498.7" y="919.7" font-size="10.0" fill="#000" text-anchor="end" >500</text>
<line x1="532.7" y1="926.2" x2="568.2" y2="934.4" stroke="#000" stroke-width="1.00"/>
<line x1="532.7" y1="944.1" x2="568.2" y2="948.2" stroke="#000" stroke-width="1.00"/>
<line x1="532.7" y1="951.0" x2="568.2" y2="951.6" stroke="#000" stroke-width="1.00"/>
<line x1="532.7" y1="954.4" x2="568.2" y2="954.9" stroke="#000" stroke-width="1.00"/>
<line x1="532.7" y1="957.7" x2="568.2" y2="957.7" stroke="#000" stroke-width="1.00"/>
<line x1="532.7" y1="961.3" x2="568.2" y2="960.4" stroke="#000" stroke-width="1.00"/>
<line x1="532.7" y1="964.6" x2="568.2" y2="960.4" stroke="#000" stroke-width="1.00"/>
<line x1="532.7" y1="966.2" x2="568.2" y2="963.4" stroke="#000" stroke-width="1.00"/>
<line x1="532.7" y1="967.6" x2="568.2" y2="963.4" stroke="#000" stroke-width="1.00"/>
<line x1="613.5" y1="920.6" x2="649.2" y2="921.2" stroke="#000" stroke-width="1.00"/>
<line x1="613.5" y1="926.7" x2="649.2" y2="926.7" stroke="#000" stroke-width="1.00"/>
<line x1="613.5" y1="926.7" x2="649.2" y2="930.9" stroke="#000" stroke-width="1.00"/>
<line x1="613.5" y1="929.5" x2="649.2" y2="934.9" stroke="#000" stroke-width="1.00"/>
<line x1="613.5" y1="929.5" x2="649.2" y2="937.8" stroke="#000" stroke-width="1.00"/>
<line x1="613.5" y1="934.4" x2="649.2" y2="934.9" stroke="#000" stroke-width="1.00"/>
<line x1="613.5" y1="934.4" x2="649.2" y2="940.6" stroke="#000" stroke-width="1.00"/>
<line x1="613.5" y1="939.7" x2="649.2" y2="943.8" stroke="#000" stroke-width="1.00"/>
<line x1="613.5" y1="952.4" x2="649.2" y2="940.6" stroke="#000" stroke-width="1.00"/>
<circle cx="532.7" cy="926.2" r="2.55" fill="#fff" stroke="#000" stroke-width="1.0"/>
<circle cx="532.7" cy="944.1" r="2.55" fill="#fff" stroke="#000" stroke-width="1.0"/>
<circle cx="532.7" cy="951.0" r="2.55" fill="#fff" stroke="#000" stroke-width="1.0"/>
<circle cx="532.7" cy="954.4" r="2.55" fill="#fff" stroke="#000" stroke-width="1.0"/>
<circle cx="532.7" cy="957.7" r="2.55" fill="#fff" stroke="#000" stroke-width="1.0"/>
<circle cx="532.7" cy="961.3" r="2.55" fill="#fff" stroke="#000" stroke-width="1.0"/>
<circle cx="532.7" cy="964.6" r="2.55" fill="#fff" stroke="#000" stroke-width="1.0"/>
<circle cx="532.7" cy="966.2" r="2.55" fill="#fff" stroke="#000" stroke-width="1.0"/>
<circle cx="532.7" cy="967.6" r="2.55" fill="#fff" stroke="#000" stroke-width="1.0"/>
<circle cx="568.2" cy="934.4" r="2.55" fill="#fff" stroke="#000" stroke-width="1.0"/>
<circle cx="568.2" cy="948.2" r="2.55" fill="#fff" stroke="#000" stroke-width="1.0"/>
<circle cx="568.2" cy="951.6" r="2.55" fill="#fff" stroke="#000" stroke-width="1.0"/>
<circle cx="568.2" cy="954.9" r="2.55" fill="#fff" stroke="#000" stroke-width="1.0"/>
<circle cx="568.2" cy="957.7" r="2.55" fill="#fff" stroke="#000" stroke-width="1.0"/>
<circle cx="568.2" cy="960.4" r="2.55" fill="#fff" stroke="#000" stroke-width="1.0"/>
<circle cx="568.2" cy="963.4" r="2.55" fill="#fff" stroke="#000" stroke-width="1.0"/>
<circle cx="613.5" cy="920.6" r="2.55" fill="#fff" stroke="#000" stroke-width="1.0"/>
<circle cx="613.5" cy="926.7" r="2.55" fill="#fff" stroke="#000" stroke-width="1.0"/>
<circle cx="613.5" cy="929.5" r="2.55" fill="#fff" stroke="#000" stroke-width="1.0"/>
<circle cx="613.5" cy="934.4" r="2.55" fill="#fff" stroke="#000" stroke-width="1.0"/>
<circle cx="613.5" cy="939.7" r="2.55" fill="#fff" stroke="#000" stroke-width="1.0"/>
<circle cx="613.5" cy="952.4" r="2.55" fill="#fff" stroke="#000" stroke-width="1.0"/>
<circle cx="649.2" cy="921.2" r="2.55" fill="#fff" stroke="#000" stroke-width="1.0"/>
<circle cx="649.2" cy="926.7" r="2.55" fill="#fff" stroke="#000" stroke-width="1.0"/>
<circle cx="649.2" cy="930.9" r="2.55" fill="#fff" stroke="#000" stroke-width="1.0"/>
<circle cx="649.2" cy="934.9" r="2.55" fill="#fff" stroke="#000" stroke-width="1.0"/>
<circle cx="649.2" cy="937.8" r="2.55" fill="#fff" stroke="#000" stroke-width="1.0"/>
<circle cx="649.2" cy="940.6" r="2.55" fill="#fff" stroke="#000" stroke-width="1.0"/>
<circle cx="649.2" cy="943.8" r="2.55" fill="#fff" stroke="#000" stroke-width="1.0"/>
<text x="533.0" y="1019.8" font-size="10.1" fill="#000" text-anchor="middle" >CA-</text>
<text x="568.5" y="1019.8" font-size="10.1" fill="#000" text-anchor="middle" >CA+</text>
<text x="613.8" y="1019.8" font-size="10.1" fill="#000" text-anchor="middle" >CA-</text>
<text x="649.5" y="1019.8" font-size="10.1" fill="#000" text-anchor="middle" >CA+</text>
<line x1="520.1" y1="1025.4" x2="580.8" y2="1025.4" stroke="#000" stroke-width="1.10"/>
<line x1="602.1" y1="1025.4" x2="661.0" y2="1025.4" stroke="#000" stroke-width="1.10"/>
<text x="552.2" y="1034.9" font-size="10.3" fill="#000" text-anchor="middle" >First AP</text>
<text x="631.6" y="1034.9" font-size="10.3" fill="#000" text-anchor="middle" >Last AP</text>
<text transform="translate(463.8 959.8) rotate(-90)" font-size="12.4" text-anchor="middle">APs Area</text>
<text transform="translate(478.5 960.4) rotate(-90)" font-size="12.4" text-anchor="middle">at 400 pA (mV / ms)</text>
</svg>
</body></html>
